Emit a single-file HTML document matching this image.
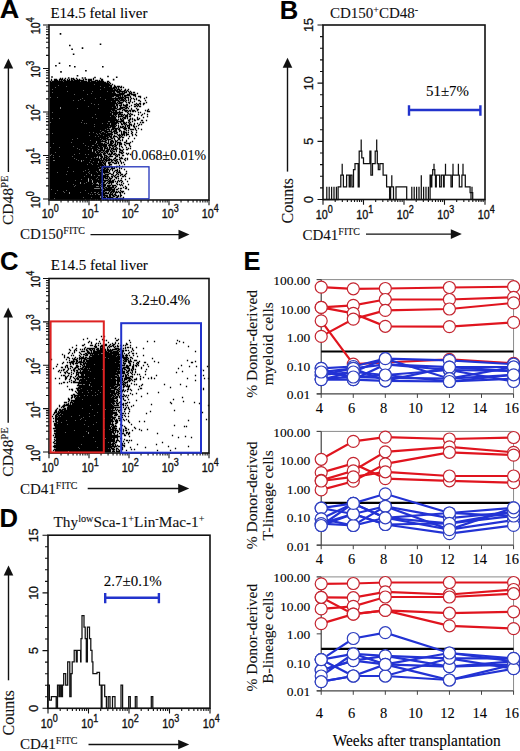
<!DOCTYPE html>
<html><head><meta charset="utf-8"><style>
html,body{margin:0;padding:0;background:#fff;width:520px;height:751px;overflow:hidden;font-family:"Liberation Serif",serif;}
svg{display:block;}
text:not([stroke]){stroke:#111;stroke-width:0.1px;}
</style></head><body>
<svg width="520" height="751" viewBox="0 0 520 751"><text x="-0.3" y="17.9" font-size="25.5" font-family="Liberation Sans" font-weight="bold" textLength="19.5" lengthAdjust="spacingAndGlyphs" fill="#000">A</text>
<text x="279.8" y="18.6" font-size="25.5" font-family="Liberation Sans" font-weight="bold" textLength="18.5" lengthAdjust="spacingAndGlyphs" fill="#000">B</text>
<text x="0.0" y="269.7" font-size="25.5" font-family="Liberation Sans" font-weight="bold" textLength="18.5" lengthAdjust="spacingAndGlyphs" fill="#000">C</text>
<text x="-0.5" y="526.6" font-size="25.5" font-family="Liberation Sans" font-weight="bold" textLength="18.5" lengthAdjust="spacingAndGlyphs" fill="#000">D</text>
<text x="243.5" y="270.1" font-size="25.5" font-family="Liberation Sans" font-weight="bold" textLength="17" lengthAdjust="spacingAndGlyphs" fill="#000">E</text>
<text x="50.4" y="18.0" font-size="15" font-family="Liberation Serif">E14.5 fetal liver</text>
<path d="M59.85 78.5h1.3M61.85 78.5h1.3M64.85 78.5h1.3M70.85 78.5h1.3M72.85 78.5h1.3M75.85 78.5h1.3M92.85 78.5h1.3M99.85 78.5h1.3M50.85 79.5h1.3M53.85 79.5h3.3M58.85 79.5h4.3M63.85 79.5h1.3M66.85 79.5h1.3M68.85 79.5h1.3M70.85 79.5h1.3M72.85 79.5h2.3M76.85 79.5h1.3M78.85 79.5h1.3M82.85 79.5h1.3M84.85 79.5h2.3M87.85 79.5h4.3M92.85 79.5h1.3M100.85 79.5h2.3M50.85 80.5h1.3M53.85 80.5h4.3M58.85 80.5h1.3M60.85 80.5h1.3M62.85 80.5h3.3M66.85 80.5h3.3M70.85 80.5h2.3M73.85 80.5h10.3M87.85 80.5h4.3M94.85 80.5h3.3M98.85 80.5h1.3M100.85 80.5h2.3M49.85 81.5h1.3M51.85 81.5h11.3M63.85 81.5h16.3M80.85 81.5h6.3M87.85 81.5h2.3M90.85 81.5h5.3M96.85 81.5h7.3M106.85 81.5h2.3M49.85 82.5h56.3M106.85 82.5h1.3M108.85 82.5h1.3M49.85 83.5h59.3M109.85 83.5h1.3M49.85 84.5h44.3M94.85 84.5h15.3M111.85 84.5h1.3M49.85 85.5h8.3M58.85 85.5h53.3M113.85 85.5h1.3M49.85 86.5h16.3M66.85 86.5h33.3M100.85 86.5h8.3M109.85 86.5h2.3M113.85 86.5h2.3M116.85 86.5h3.3M120.85 86.5h1.3M49.85 87.5h5.3M55.85 87.5h48.3M104.85 87.5h7.3M112.85 87.5h4.3M117.85 87.5h1.3M119.85 87.5h2.3M122.85 87.5h1.3M49.85 88.5h65.3M115.85 88.5h1.3M117.85 88.5h1.3M49.85 89.5h2.3M52.85 89.5h47.3M100.85 89.5h12.3M113.85 89.5h2.3M116.85 89.5h3.3M120.85 89.5h1.3M124.85 89.5h1.3M127.85 89.5h1.3M49.85 90.5h33.3M83.85 90.5h34.3M118.85 90.5h2.3M123.85 90.5h2.3M126.85 90.5h1.3M49.85 91.5h17.3M67.85 91.5h24.3M92.85 91.5h14.3M107.85 91.5h7.3M115.85 91.5h9.3M125.85 91.5h1.3M127.85 91.5h1.3M129.85 91.5h1.3M49.85 92.5h2.3M52.85 92.5h59.3M112.85 92.5h2.3M116.85 92.5h3.3M121.85 92.5h1.3M123.85 92.5h3.3M128.85 92.5h1.3M130.85 92.5h1.3M132.85 92.5h2.3M49.85 93.5h41.3M91.85 93.5h24.3M118.85 93.5h6.3M128.85 93.5h3.3M136.85 93.5h1.3M49.85 94.5h24.3M74.85 94.5h12.3M87.85 94.5h36.3M126.85 94.5h3.3M130.85 94.5h5.3M49.85 95.5h71.3M121.85 95.5h1.3M123.85 95.5h6.3M132.85 95.5h3.3M49.85 96.5h64.3M115.85 96.5h3.3M119.85 96.5h1.3M121.85 96.5h1.3M123.85 96.5h2.3M129.85 96.5h1.3M134.85 96.5h1.3M137.85 96.5h3.3M50.85 97.5h6.3M57.85 97.5h42.3M100.85 97.5h11.3M114.85 97.5h1.3M117.85 97.5h6.3M124.85 97.5h4.3M129.85 97.5h1.3M139.85 97.5h1.3M145.85 97.5h1.3M49.85 98.5h32.3M82.85 98.5h12.3M95.85 98.5h27.3M123.85 98.5h2.3M127.85 98.5h1.3M130.85 98.5h1.3M132.85 98.5h1.3M135.85 98.5h1.3M143.85 98.5h1.3M49.85 99.5h30.3M80.85 99.5h24.3M105.85 99.5h8.3M114.85 99.5h3.3M118.85 99.5h1.3M120.85 99.5h3.3M124.85 99.5h1.3M127.85 99.5h1.3M129.85 99.5h1.3M133.85 99.5h1.3M135.85 99.5h1.3M49.85 100.5h23.3M73.85 100.5h4.3M78.85 100.5h5.3M84.85 100.5h34.3M119.85 100.5h5.3M125.85 100.5h1.3M127.85 100.5h1.3M129.85 100.5h1.3M137.85 100.5h2.3M144.85 100.5h1.3M49.85 101.5h61.3M111.85 101.5h4.3M117.85 101.5h2.3M122.85 101.5h1.3M124.85 101.5h1.3M129.85 101.5h1.3M133.85 101.5h1.3M139.85 101.5h1.3M49.85 102.5h66.3M116.85 102.5h1.3M118.85 102.5h4.3M125.85 102.5h1.3M127.85 102.5h2.3M131.85 102.5h1.3M145.85 102.5h1.3M49.85 103.5h41.3M91.85 103.5h25.3M117.85 103.5h4.3M128.85 103.5h1.3M135.85 103.5h1.3M138.85 103.5h2.3M142.85 103.5h2.3M49.85 104.5h44.3M94.85 104.5h3.3M98.85 104.5h16.3M115.85 104.5h2.3M120.85 104.5h1.3M122.85 104.5h1.3M125.85 104.5h2.3M133.85 104.5h2.3M136.85 104.5h2.3M139.85 104.5h1.3M142.85 104.5h1.3M49.85 105.5h65.3M115.85 105.5h2.3M118.85 105.5h3.3M122.85 105.5h5.3M130.85 105.5h1.3M135.85 105.5h1.3M137.85 105.5h1.3M49.85 106.5h38.3M88.85 106.5h27.3M116.85 106.5h1.3M119.85 106.5h1.3M124.85 106.5h2.3M128.85 106.5h1.3M133.85 106.5h2.3M136.85 106.5h1.3M138.85 106.5h2.3M49.85 107.5h10.3M60.85 107.5h51.3M112.85 107.5h3.3M116.85 107.5h1.3M119.85 107.5h5.3M125.85 107.5h2.3M49.85 108.5h10.3M60.85 108.5h16.3M77.85 108.5h20.3M98.85 108.5h18.3M118.85 108.5h4.3M124.85 108.5h2.3M127.85 108.5h1.3M130.85 108.5h1.3M135.85 108.5h1.3M49.85 109.5h65.3M116.85 109.5h4.3M122.85 109.5h2.3M130.85 109.5h1.3M136.85 109.5h2.3M147.85 109.5h1.3M49.85 110.5h61.3M111.85 110.5h5.3M121.85 110.5h1.3M123.85 110.5h4.3M128.85 110.5h2.3M131.85 110.5h3.3M136.85 110.5h1.3M144.85 110.5h1.3M146.85 110.5h1.3M49.85 111.5h62.3M112.85 111.5h1.3M114.85 111.5h2.3M118.85 111.5h1.3M124.85 111.5h2.3M127.85 111.5h1.3M129.85 111.5h1.3M131.85 111.5h2.3M134.85 111.5h1.3M146.85 111.5h3.3M49.85 112.5h2.3M52.85 112.5h57.3M110.85 112.5h12.3M126.85 112.5h1.3M137.85 112.5h1.3M139.85 112.5h1.3M49.85 113.5h62.3M112.85 113.5h5.3M118.85 113.5h2.3M127.85 113.5h1.3M129.85 113.5h1.3M143.85 113.5h1.3M49.85 114.5h45.3M95.85 114.5h16.3M112.85 114.5h4.3M117.85 114.5h5.3M123.85 114.5h1.3M126.85 114.5h1.3M128.85 114.5h1.3M130.85 114.5h2.3M137.85 114.5h1.3M141.85 114.5h1.3M146.85 114.5h1.3M49.85 115.5h64.3M114.85 115.5h1.3M117.85 115.5h1.3M120.85 115.5h1.3M122.85 115.5h1.3M124.85 115.5h3.3M129.85 115.5h1.3M133.85 115.5h1.3M140.85 115.5h1.3M49.85 116.5h60.3M110.85 116.5h4.3M115.85 116.5h1.3M117.85 116.5h5.3M124.85 116.5h3.3M128.85 116.5h2.3M146.85 116.5h1.3M49.85 117.5h42.3M92.85 117.5h23.3M117.85 117.5h1.3M122.85 117.5h3.3M126.85 117.5h1.3M136.85 117.5h1.3M142.85 117.5h1.3M49.85 118.5h2.3M52.85 118.5h6.3M59.85 118.5h36.3M96.85 118.5h19.3M119.85 118.5h1.3M121.85 118.5h1.3M123.85 118.5h2.3M126.85 118.5h1.3M129.85 118.5h1.3M131.85 118.5h1.3M136.85 118.5h1.3M138.85 118.5h1.3M49.85 119.5h67.3M117.85 119.5h1.3M119.85 119.5h2.3M122.85 119.5h1.3M128.85 119.5h2.3M131.85 119.5h1.3M133.85 119.5h1.3M136.85 119.5h2.3M49.85 120.5h32.3M82.85 120.5h35.3M120.85 120.5h3.3M127.85 120.5h2.3M133.85 120.5h2.3M140.85 120.5h2.3M145.85 120.5h1.3M49.85 121.5h58.3M109.85 121.5h5.3M115.85 121.5h8.3M128.85 121.5h1.3M131.85 121.5h1.3M50.85 122.5h30.3M81.85 122.5h36.3M119.85 122.5h1.3M122.85 122.5h2.3M125.85 122.5h1.3M127.85 122.5h1.3M129.85 122.5h1.3M139.85 122.5h1.3M141.85 122.5h2.3M49.85 123.5h34.3M84.85 123.5h1.3M86.85 123.5h15.3M102.85 123.5h4.3M107.85 123.5h2.3M110.85 123.5h6.3M117.85 123.5h1.3M120.85 123.5h1.3M122.85 123.5h3.3M128.85 123.5h1.3M133.85 123.5h1.3M136.85 123.5h1.3M49.85 124.5h44.3M94.85 124.5h15.3M110.85 124.5h5.3M120.85 124.5h2.3M123.85 124.5h1.3M125.85 124.5h1.3M128.85 124.5h3.3M133.85 124.5h1.3M138.85 124.5h1.3M140.85 124.5h1.3M49.85 125.5h65.3M115.85 125.5h1.3M117.85 125.5h1.3M124.85 125.5h1.3M126.85 125.5h3.3M130.85 125.5h1.3M132.85 125.5h1.3M137.85 125.5h1.3M49.85 126.5h44.3M94.85 126.5h14.3M109.85 126.5h6.3M117.85 126.5h1.3M119.85 126.5h1.3M121.85 126.5h2.3M124.85 126.5h1.3M126.85 126.5h1.3M128.85 126.5h1.3M132.85 126.5h2.3M135.85 126.5h1.3M49.85 127.5h61.3M111.85 127.5h3.3M117.85 127.5h1.3M119.85 127.5h3.3M123.85 127.5h2.3M127.85 127.5h2.3M133.85 127.5h1.3M49.85 128.5h57.3M107.85 128.5h1.3M111.85 128.5h6.3M118.85 128.5h1.3M122.85 128.5h4.3M127.85 128.5h2.3M134.85 128.5h1.3M137.85 128.5h1.3M49.85 129.5h55.3M105.85 129.5h4.3M110.85 129.5h3.3M114.85 129.5h2.3M117.85 129.5h2.3M123.85 129.5h2.3M129.85 129.5h4.3M134.85 129.5h1.3M140.85 129.5h1.3M49.85 130.5h50.3M100.85 130.5h6.3M108.85 130.5h1.3M110.85 130.5h1.3M113.85 130.5h3.3M118.85 130.5h2.3M125.85 130.5h1.3M127.85 130.5h1.3M135.85 130.5h1.3M49.85 131.5h52.3M103.85 131.5h8.3M112.85 131.5h4.3M118.85 131.5h1.3M120.85 131.5h1.3M122.85 131.5h2.3M130.85 131.5h1.3M49.85 132.5h39.3M89.85 132.5h3.3M93.85 132.5h7.3M101.85 132.5h2.3M104.85 132.5h3.3M110.85 132.5h2.3M113.85 132.5h1.3M115.85 132.5h2.3M120.85 132.5h1.3M122.85 132.5h4.3M127.85 132.5h1.3M131.85 132.5h1.3M135.85 132.5h1.3M49.85 133.5h2.3M52.85 133.5h43.3M96.85 133.5h2.3M99.85 133.5h6.3M106.85 133.5h5.3M113.85 133.5h3.3M120.85 133.5h1.3M122.85 133.5h2.3M125.85 133.5h1.3M130.85 133.5h1.3M49.85 134.5h47.3M97.85 134.5h2.3M100.85 134.5h12.3M116.85 134.5h1.3M118.85 134.5h1.3M120.85 134.5h4.3M125.85 134.5h3.3M131.85 134.5h1.3M134.85 134.5h1.3M49.85 135.5h39.3M89.85 135.5h13.3M103.85 135.5h6.3M110.85 135.5h1.3M113.85 135.5h1.3M117.85 135.5h3.3M121.85 135.5h1.3M123.85 135.5h1.3M125.85 135.5h1.3M131.85 135.5h1.3M135.85 135.5h1.3M49.85 136.5h45.3M95.85 136.5h2.3M98.85 136.5h9.3M108.85 136.5h3.3M112.85 136.5h4.3M118.85 136.5h1.3M120.85 136.5h1.3M128.85 136.5h1.3M49.85 137.5h56.3M106.85 137.5h2.3M109.85 137.5h2.3M112.85 137.5h1.3M116.85 137.5h1.3M118.85 137.5h2.3M121.85 137.5h2.3M49.85 138.5h27.3M77.85 138.5h22.3M100.85 138.5h7.3M110.85 138.5h2.3M113.85 138.5h1.3M117.85 138.5h2.3M127.85 138.5h1.3M133.85 138.5h1.3M49.85 139.5h22.3M72.85 139.5h29.3M102.85 139.5h3.3M106.85 139.5h4.3M113.85 139.5h1.3M117.85 139.5h2.3M121.85 139.5h1.3M49.85 140.5h40.3M90.85 140.5h10.3M101.85 140.5h1.3M104.85 140.5h2.3M107.85 140.5h1.3M110.85 140.5h2.3M114.85 140.5h1.3M116.85 140.5h1.3M119.85 140.5h1.3M121.85 140.5h1.3M125.85 140.5h1.3M49.85 141.5h46.3M96.85 141.5h9.3M107.85 141.5h1.3M109.85 141.5h4.3M114.85 141.5h2.3M125.85 141.5h1.3M131.85 141.5h1.3M49.85 142.5h21.3M71.85 142.5h24.3M96.85 142.5h4.3M104.85 142.5h2.3M107.85 142.5h1.3M109.85 142.5h2.3M112.85 142.5h1.3M114.85 142.5h1.3M116.85 142.5h4.3M123.85 142.5h2.3M129.85 142.5h1.3M49.85 143.5h3.3M53.85 143.5h29.3M83.85 143.5h11.3M95.85 143.5h7.3M103.85 143.5h1.3M106.85 143.5h2.3M109.85 143.5h3.3M114.85 143.5h1.3M116.85 143.5h1.3M118.85 143.5h3.3M125.85 143.5h4.3M49.85 144.5h47.3M97.85 144.5h9.3M108.85 144.5h3.3M113.85 144.5h2.3M116.85 144.5h1.3M118.85 144.5h3.3M123.85 144.5h1.3M128.85 144.5h1.3M49.85 145.5h35.3M85.85 145.5h6.3M93.85 145.5h13.3M107.85 145.5h6.3M114.85 145.5h2.3M118.85 145.5h1.3M124.85 145.5h1.3M128.85 145.5h1.3M49.85 146.5h23.3M73.85 146.5h14.3M88.85 146.5h9.3M98.85 146.5h3.3M102.85 146.5h4.3M108.85 146.5h1.3M111.85 146.5h1.3M113.85 146.5h2.3M118.85 146.5h1.3M120.85 146.5h1.3M129.85 146.5h1.3M50.85 147.5h8.3M59.85 147.5h31.3M91.85 147.5h7.3M99.85 147.5h3.3M103.85 147.5h2.3M106.85 147.5h1.3M108.85 147.5h2.3M112.85 147.5h1.3M115.85 147.5h1.3M121.85 147.5h1.3M125.85 147.5h1.3M49.85 148.5h27.3M77.85 148.5h19.3M97.85 148.5h5.3M103.85 148.5h4.3M108.85 148.5h1.3M110.85 148.5h3.3M114.85 148.5h1.3M116.85 148.5h1.3M118.85 148.5h1.3M127.85 148.5h1.3M129.85 148.5h1.3M49.85 149.5h29.3M79.85 149.5h8.3M88.85 149.5h3.3M92.85 149.5h5.3M99.85 149.5h3.3M103.85 149.5h1.3M106.85 149.5h3.3M110.85 149.5h1.3M112.85 149.5h4.3M118.85 149.5h2.3M122.85 149.5h1.3M125.85 149.5h2.3M49.85 150.5h42.3M92.85 150.5h4.3M97.85 150.5h7.3M105.85 150.5h3.3M109.85 150.5h1.3M111.85 150.5h1.3M115.85 150.5h1.3M119.85 150.5h3.3M49.85 151.5h42.3M92.85 151.5h2.3M95.85 151.5h2.3M98.85 151.5h2.3M102.85 151.5h1.3M104.85 151.5h4.3M109.85 151.5h2.3M112.85 151.5h2.3M115.85 151.5h1.3M118.85 151.5h1.3M121.85 151.5h1.3M49.85 152.5h5.3M55.85 152.5h39.3M95.85 152.5h4.3M100.85 152.5h2.3M103.85 152.5h1.3M105.85 152.5h2.3M110.85 152.5h2.3M118.85 152.5h3.3M122.85 152.5h1.3M49.85 153.5h29.3M79.85 153.5h16.3M96.85 153.5h2.3M99.85 153.5h1.3M102.85 153.5h3.3M106.85 153.5h1.3M108.85 153.5h1.3M110.85 153.5h2.3M113.85 153.5h2.3M120.85 153.5h2.3M125.85 153.5h1.3M127.85 153.5h1.3M49.85 154.5h1.3M51.85 154.5h22.3M74.85 154.5h10.3M85.85 154.5h2.3M88.85 154.5h13.3M102.85 154.5h2.3M107.85 154.5h4.3M112.85 154.5h2.3M115.85 154.5h1.3M117.85 154.5h2.3M126.85 154.5h1.3M129.85 154.5h1.3M50.85 155.5h2.3M53.85 155.5h48.3M103.85 155.5h3.3M109.85 155.5h1.3M114.85 155.5h1.3M116.85 155.5h1.3M118.85 155.5h1.3M121.85 155.5h2.3M49.85 156.5h9.3M59.85 156.5h12.3M72.85 156.5h24.3M97.85 156.5h1.3M99.85 156.5h3.3M103.85 156.5h1.3M105.85 156.5h2.3M108.85 156.5h4.3M115.85 156.5h2.3M49.85 157.5h3.3M53.85 157.5h32.3M86.85 157.5h7.3M94.85 157.5h1.3M97.85 157.5h1.3M100.85 157.5h2.3M103.85 157.5h3.3M107.85 157.5h1.3M114.85 157.5h1.3M118.85 157.5h1.3M120.85 157.5h1.3M49.85 158.5h24.3M74.85 158.5h16.3M91.85 158.5h7.3M99.85 158.5h2.3M102.85 158.5h2.3M105.85 158.5h2.3M108.85 158.5h1.3M113.85 158.5h2.3M119.85 158.5h3.3M124.85 158.5h1.3M126.85 158.5h1.3M49.85 159.5h26.3M76.85 159.5h23.3M100.85 159.5h1.3M102.85 159.5h4.3M107.85 159.5h4.3M112.85 159.5h1.3M115.85 159.5h2.3M118.85 159.5h1.3M123.85 159.5h1.3M126.85 159.5h1.3M49.85 160.5h3.3M54.85 160.5h23.3M78.85 160.5h2.3M81.85 160.5h1.3M83.85 160.5h6.3M90.85 160.5h13.3M104.85 160.5h5.3M110.85 160.5h2.3M113.85 160.5h3.3M119.85 160.5h1.3M124.85 160.5h1.3M49.85 161.5h31.3M81.85 161.5h11.3M93.85 161.5h4.3M98.85 161.5h2.3M101.85 161.5h1.3M103.85 161.5h1.3M105.85 161.5h1.3M110.85 161.5h1.3M114.85 161.5h1.3M116.85 161.5h1.3M119.85 161.5h1.3M49.85 162.5h39.3M89.85 162.5h8.3M98.85 162.5h5.3M104.85 162.5h1.3M107.85 162.5h3.3M111.85 162.5h2.3M115.85 162.5h1.3M117.85 162.5h1.3M120.85 162.5h1.3M122.85 162.5h1.3M49.85 163.5h41.3M91.85 163.5h10.3M102.85 163.5h3.3M107.85 163.5h2.3M113.85 163.5h3.3M117.85 163.5h1.3M120.85 163.5h1.3M49.85 164.5h37.3M87.85 164.5h4.3M92.85 164.5h4.3M97.85 164.5h5.3M103.85 164.5h2.3M108.85 164.5h3.3M123.85 164.5h1.3M49.85 165.5h54.3M104.85 165.5h1.3M108.85 165.5h1.3M118.85 165.5h1.3M49.85 166.5h50.3M100.85 166.5h8.3M109.85 166.5h2.3M115.85 166.5h2.3M121.85 166.5h1.3M49.85 167.5h18.3M68.85 167.5h29.3M98.85 167.5h3.3M102.85 167.5h7.3M110.85 167.5h2.3M113.85 167.5h1.3M115.85 167.5h1.3M118.85 167.5h1.3M49.85 168.5h51.3M101.85 168.5h1.3M103.85 168.5h2.3M106.85 168.5h1.3M110.85 168.5h4.3M118.85 168.5h1.3M120.85 168.5h1.3M49.85 169.5h38.3M88.85 169.5h10.3M100.85 169.5h4.3M105.85 169.5h3.3M109.85 169.5h1.3M111.85 169.5h1.3M116.85 169.5h1.3M123.85 169.5h1.3M49.85 170.5h35.3M85.85 170.5h13.3M99.85 170.5h8.3M108.85 170.5h1.3M111.85 170.5h1.3M114.85 170.5h3.3M118.85 170.5h1.3M49.85 171.5h17.3M67.85 171.5h5.3M73.85 171.5h9.3M83.85 171.5h5.3M89.85 171.5h6.3M96.85 171.5h3.3M100.85 171.5h1.3M102.85 171.5h5.3M108.85 171.5h1.3M113.85 171.5h1.3M116.85 171.5h1.3M118.85 171.5h1.3M125.85 171.5h1.3M49.85 172.5h7.3M57.85 172.5h30.3M88.85 172.5h8.3M97.85 172.5h11.3M112.85 172.5h1.3M115.85 172.5h1.3M117.85 172.5h3.3M49.85 173.5h39.3M89.85 173.5h13.3M103.85 173.5h1.3M108.85 173.5h2.3M112.85 173.5h1.3M116.85 173.5h1.3M119.85 173.5h1.3M125.85 173.5h1.3M49.85 174.5h16.3M66.85 174.5h19.3M86.85 174.5h4.3M91.85 174.5h11.3M104.85 174.5h4.3M110.85 174.5h2.3M115.85 174.5h1.3M117.85 174.5h1.3M120.85 174.5h2.3M124.85 174.5h1.3M49.85 175.5h41.3M91.85 175.5h2.3M94.85 175.5h3.3M99.85 175.5h2.3M102.85 175.5h3.3M106.85 175.5h1.3M112.85 175.5h1.3M114.85 175.5h1.3M119.85 175.5h1.3M123.85 175.5h1.3M49.85 176.5h34.3M84.85 176.5h24.3M110.85 176.5h2.3M113.85 176.5h1.3M116.85 176.5h2.3M121.85 176.5h2.3M124.85 176.5h1.3M49.85 177.5h47.3M97.85 177.5h8.3M106.85 177.5h1.3M108.85 177.5h1.3M111.85 177.5h1.3M114.85 177.5h2.3M49.85 178.5h38.3M88.85 178.5h7.3M96.85 178.5h7.3M104.85 178.5h3.3M108.85 178.5h3.3M115.85 178.5h1.3M117.85 178.5h1.3M120.85 178.5h1.3M128.85 178.5h1.3M49.85 179.5h31.3M81.85 179.5h6.3M88.85 179.5h2.3M91.85 179.5h6.3M98.85 179.5h5.3M107.85 179.5h1.3M109.85 179.5h1.3M113.85 179.5h1.3M124.85 179.5h1.3M49.85 180.5h25.3M75.85 180.5h12.3M88.85 180.5h3.3M92.85 180.5h15.3M108.85 180.5h2.3M111.85 180.5h2.3M117.85 180.5h1.3M119.85 180.5h2.3M49.85 181.5h17.3M67.85 181.5h20.3M88.85 181.5h3.3M92.85 181.5h10.3M103.85 181.5h2.3M107.85 181.5h6.3M114.85 181.5h1.3M116.85 181.5h1.3M118.85 181.5h1.3M121.85 181.5h1.3M126.85 181.5h1.3M49.85 182.5h30.3M80.85 182.5h5.3M86.85 182.5h5.3M92.85 182.5h4.3M97.85 182.5h7.3M106.85 182.5h1.3M108.85 182.5h5.3M116.85 182.5h1.3M120.85 182.5h1.3M49.85 183.5h30.3M80.85 183.5h3.3M84.85 183.5h8.3M93.85 183.5h2.3M98.85 183.5h2.3M102.85 183.5h1.3M105.85 183.5h1.3M107.85 183.5h2.3M110.85 183.5h1.3M115.85 183.5h1.3M122.85 183.5h1.3M49.85 184.5h23.3M73.85 184.5h18.3M92.85 184.5h5.3M98.85 184.5h1.3M100.85 184.5h5.3M110.85 184.5h1.3M116.85 184.5h1.3M118.85 184.5h1.3M120.85 184.5h1.3M127.85 184.5h1.3M49.85 185.5h25.3M75.85 185.5h25.3M101.85 185.5h4.3M106.85 185.5h4.3M111.85 185.5h4.3M119.85 185.5h1.3M121.85 185.5h1.3M49.85 186.5h24.3M74.85 186.5h21.3M98.85 186.5h1.3M100.85 186.5h4.3M106.85 186.5h3.3M111.85 186.5h2.3M115.85 186.5h1.3M124.85 186.5h1.3M49.85 187.5h51.3M102.85 187.5h1.3M104.85 187.5h2.3M107.85 187.5h6.3M114.85 187.5h1.3M122.85 187.5h1.3M125.85 187.5h1.3M49.85 188.5h44.3M99.85 188.5h1.3M102.85 188.5h2.3M105.85 188.5h6.3M113.85 188.5h1.3M117.85 188.5h1.3M119.85 188.5h2.3M124.85 188.5h2.3M49.85 189.5h1.3M51.85 189.5h50.3M103.85 189.5h11.3M115.85 189.5h2.3M127.85 189.5h1.3M49.85 190.5h7.3M57.85 190.5h8.3M66.85 190.5h18.3M85.85 190.5h16.3M102.85 190.5h8.3M111.85 190.5h3.3M119.85 190.5h1.3M49.85 191.5h13.3M63.85 191.5h37.3M102.85 191.5h2.3M108.85 191.5h1.3M110.85 191.5h4.3M115.85 191.5h1.3M117.85 191.5h1.3M120.85 191.5h3.3M49.85 192.5h14.3M64.85 192.5h4.3M69.85 192.5h10.3M80.85 192.5h10.3M91.85 192.5h2.3M95.85 192.5h2.3M98.85 192.5h5.3M104.85 192.5h2.3M107.85 192.5h1.3M109.85 192.5h2.3M112.85 192.5h1.3M114.85 192.5h3.3M118.85 192.5h2.3M121.85 192.5h1.3M49.85 193.5h5.3M55.85 193.5h13.3M69.85 193.5h18.3M88.85 193.5h8.3M97.85 193.5h11.3M109.85 193.5h1.3M111.85 193.5h1.3M114.85 193.5h1.3M119.85 193.5h1.3M123.85 193.5h1.3M49.85 194.5h40.3M90.85 194.5h1.3M92.85 194.5h2.3M95.85 194.5h2.3M99.85 194.5h5.3M108.85 194.5h4.3M113.85 194.5h2.3M119.85 194.5h1.3M49.85 195.5h52.3M102.85 195.5h5.3M108.85 195.5h2.3M111.85 195.5h2.3M114.85 195.5h2.3M117.85 195.5h1.3M119.85 195.5h2.3M49.85 196.5h50.3M100.85 196.5h2.3M103.85 196.5h1.3M105.85 196.5h2.3M108.85 196.5h2.3M112.85 196.5h2.3M116.85 196.5h2.3M119.85 196.5h1.3M49.85 197.5h33.3M83.85 197.5h7.3M91.85 197.5h8.3M100.85 197.5h1.3M102.85 197.5h3.3M106.85 197.5h6.3M115.85 197.5h2.3M122.85 197.5h1.3M49.85 198.5h4.3M54.85 198.5h51.3M106.85 198.5h1.3M108.85 198.5h2.3M111.85 198.5h2.3M114.85 198.5h1.3M116.85 198.5h1.3M118.85 198.5h5.3M49.85 199.5h35.3M85.85 199.5h4.3M90.85 199.5h4.3M95.85 199.5h1.3M97.85 199.5h3.3M102.85 199.5h1.3M104.85 199.5h3.3M109.85 199.5h1.3M112.85 199.5h1.3M114.85 199.5h2.3M117.85 199.5h1.3M119.85 199.5h1.3M121.85 199.5h1.3" stroke="#000" stroke-width="1.35"/>
<path d="M59.7 33.9h1.6M69.0 45.5h1.6M71.3 49.2h1.6M72.8 54.2h1.6M81.7 48.1h1.6M99.7 44.2h1.6M55.1 65.8h1.6M58.7 63.2h1.6M69.0 65.8h1.6M74.0 66.8h1.6M60.2 71.9h1.6M85.1 70.8h1.6M102.0 66.8h1.6M76.7 75.8h1.6M115.9 77.3h1.6M112.8 79.6h1.6M67.9 78.0h1.6M71.2 78.8h1.6M81.7 78.0h1.6M84.4 78.0h1.6M51.2 77.0h1.6M94.2 77.5h1.6M107.2 76.5h1.6" stroke="#000" stroke-width="1.6"/>
<rect x="49" y="25" width="160" height="175" fill="none" stroke="#111" stroke-width="1.6"/>
<path d="M49.00 200.00v5.2M61.04 200.00v2.6M68.08 200.00v2.6M73.08 200.00v2.6M76.96 200.00v2.6M80.13 200.00v2.6M82.80 200.00v2.6M85.12 200.00v2.6M87.17 200.00v2.6M89.00 200.00v5.2M101.04 200.00v2.6M108.08 200.00v2.6M113.08 200.00v2.6M116.96 200.00v2.6M120.13 200.00v2.6M122.80 200.00v2.6M125.12 200.00v2.6M127.17 200.00v2.6M129.00 200.00v5.2M141.04 200.00v2.6M148.08 200.00v2.6M153.08 200.00v2.6M156.96 200.00v2.6M160.13 200.00v2.6M162.80 200.00v2.6M165.12 200.00v2.6M167.17 200.00v2.6M169.00 200.00v5.2M181.04 200.00v2.6M188.08 200.00v2.6M193.08 200.00v2.6M196.96 200.00v2.6M200.13 200.00v2.6M202.80 200.00v2.6M205.12 200.00v2.6M207.17 200.00v2.6M209.00 200.00v5.2" stroke="#111" stroke-width="1.1" fill="none" />
<path d="M49.00 199.00h-6M49.00 185.91h-3M49.00 178.25h-3M49.00 172.81h-3M49.00 168.59h-3M49.00 165.15h-3M49.00 162.24h-3M49.00 159.72h-3M49.00 157.49h-3M49.00 155.50h-6M49.00 142.41h-3M49.00 134.75h-3M49.00 129.31h-3M49.00 125.09h-3M49.00 121.65h-3M49.00 118.74h-3M49.00 116.22h-3M49.00 113.99h-3M49.00 112.00h-6M49.00 98.91h-3M49.00 91.25h-3M49.00 85.81h-3M49.00 81.59h-3M49.00 78.15h-3M49.00 75.24h-3M49.00 72.72h-3M49.00 70.49h-3M49.00 68.50h-6M49.00 55.41h-3M49.00 47.75h-3M49.00 42.31h-3M49.00 38.09h-3M49.00 34.65h-3M49.00 31.74h-3M49.00 29.22h-3M49.00 26.99h-3M49.00 25.00h-6" stroke="#111" stroke-width="1.1" fill="none" />
<text x="50.2" y="217.6" font-size="12" font-family="Liberation Sans" text-anchor="middle" fill="#111" stroke="#111" stroke-width="0.35" textLength="17" lengthAdjust="spacingAndGlyphs">10<tspan dy="-5.6" font-size="10">0</tspan></text>
<text x="90.2" y="217.6" font-size="12" font-family="Liberation Sans" text-anchor="middle" fill="#111" stroke="#111" stroke-width="0.35" textLength="17" lengthAdjust="spacingAndGlyphs">10<tspan dy="-5.6" font-size="10">1</tspan></text>
<text x="130.2" y="217.6" font-size="12" font-family="Liberation Sans" text-anchor="middle" fill="#111" stroke="#111" stroke-width="0.35" textLength="17" lengthAdjust="spacingAndGlyphs">10<tspan dy="-5.6" font-size="10">2</tspan></text>
<text x="170.2" y="217.6" font-size="12" font-family="Liberation Sans" text-anchor="middle" fill="#111" stroke="#111" stroke-width="0.35" textLength="17" lengthAdjust="spacingAndGlyphs">10<tspan dy="-5.6" font-size="10">3</tspan></text>
<text x="210.2" y="217.6" font-size="12" font-family="Liberation Sans" text-anchor="middle" fill="#111" stroke="#111" stroke-width="0.35" textLength="17" lengthAdjust="spacingAndGlyphs">10<tspan dy="-5.6" font-size="10">4</tspan></text>
<text x="39.8" y="199.8" font-size="12" font-family="Liberation Sans" text-anchor="middle" fill="#111" stroke="#111" stroke-width="0.35" textLength="17" lengthAdjust="spacingAndGlyphs" transform="rotate(-90 39.8 199.8)">10<tspan dy="-5.6" font-size="10">0</tspan></text>
<text x="39.8" y="156.3" font-size="12" font-family="Liberation Sans" text-anchor="middle" fill="#111" stroke="#111" stroke-width="0.35" textLength="17" lengthAdjust="spacingAndGlyphs" transform="rotate(-90 39.8 156.3)">10<tspan dy="-5.6" font-size="10">1</tspan></text>
<text x="39.8" y="112.8" font-size="12" font-family="Liberation Sans" text-anchor="middle" fill="#111" stroke="#111" stroke-width="0.35" textLength="17" lengthAdjust="spacingAndGlyphs" transform="rotate(-90 39.8 112.8)">10<tspan dy="-5.6" font-size="10">2</tspan></text>
<text x="39.8" y="69.3" font-size="12" font-family="Liberation Sans" text-anchor="middle" fill="#111" stroke="#111" stroke-width="0.35" textLength="17" lengthAdjust="spacingAndGlyphs" transform="rotate(-90 39.8 69.3)">10<tspan dy="-5.6" font-size="10">3</tspan></text>
<text x="39.8" y="25.8" font-size="12" font-family="Liberation Sans" text-anchor="middle" fill="#111" stroke="#111" stroke-width="0.35" textLength="17" lengthAdjust="spacingAndGlyphs" transform="rotate(-90 39.8 25.8)">10<tspan dy="-5.6" font-size="10">4</tspan></text>
<rect x="102.2" y="166.8" width="46.8" height="32" fill="none" stroke="#2233bb" stroke-width="1.3"/>
<text x="131.0" y="160.2" font-size="14" font-family="Liberation Serif" textLength="75" lengthAdjust="spacingAndGlyphs">0.068±0.01%</text>
<line x1="8.40" y1="172.00" x2="8.40" y2="66.40" stroke="#111" stroke-width="1.4" />
<path d="M3.6 68.4L8.4 58.4L13.2 68.4Z" stroke="none" stroke-width="0" fill="#111" />
<text x="13" y="225" font-size="15.5" font-family="Liberation Serif" fill="#111" transform="rotate(-90 13 225)">CD48<tspan dy="-5" font-size="10.5">PE</tspan></text>
<text x="20" y="238.7" font-size="15" font-family="Liberation Serif" fill="#111">CD150<tspan dy="-5" font-size="10">FITC</tspan></text>
<line x1="90.50" y1="234.60" x2="181.50" y2="234.60" stroke="#111" stroke-width="1.4" />
<path d="M178.5 229.8L189.5 234.6L178.5 239.4Z" stroke="none" stroke-width="0" fill="#111" />
<text x="330" y="18.3" font-size="15" font-family="Liberation Serif" fill="#111">CD150<tspan dy="-5" font-size="10">+</tspan><tspan dy="5">CD48</tspan><tspan dy="-5" font-size="10">-</tspan></text>
<rect x="323" y="25" width="162" height="174.5" fill="none" stroke="#111" stroke-width="1.6"/>
<path d="M323.00 199.50v5.2M335.19 199.50v2.6M342.32 199.50v2.6M347.38 199.50v2.6M351.31 199.50v2.6M354.52 199.50v2.6M357.23 199.50v2.6M359.58 199.50v2.6M361.65 199.50v2.6M363.50 199.50v5.2M375.69 199.50v2.6M382.82 199.50v2.6M387.88 199.50v2.6M391.81 199.50v2.6M395.02 199.50v2.6M397.73 199.50v2.6M400.08 199.50v2.6M402.15 199.50v2.6M404.00 199.50v5.2M416.19 199.50v2.6M423.32 199.50v2.6M428.38 199.50v2.6M432.31 199.50v2.6M435.52 199.50v2.6M438.23 199.50v2.6M440.58 199.50v2.6M442.65 199.50v2.6M444.50 199.50v5.2M456.69 199.50v2.6M463.82 199.50v2.6M468.88 199.50v2.6M472.81 199.50v2.6M476.02 199.50v2.6M478.73 199.50v2.6M481.08 199.50v2.6M483.15 199.50v2.6M485.00 199.50v5.2" stroke="#111" stroke-width="1.1" fill="none" />
<path d="M323.00 199.50h-5.5M323.00 187.87h-3M323.00 176.23h-3M323.00 164.60h-3M323.00 152.97h-3M323.00 141.33h-5.5M323.00 129.70h-3M323.00 118.07h-3M323.00 106.43h-3M323.00 94.80h-3M323.00 83.17h-5.5M323.00 71.53h-3M323.00 59.90h-3M323.00 48.27h-3M323.00 36.63h-3M323.00 25.00h-5.5" stroke="#111" stroke-width="1.1" fill="none" />
<text x="324.2" y="218.5" font-size="12" font-family="Liberation Sans" text-anchor="middle" fill="#111" stroke="#111" stroke-width="0.35" textLength="17" lengthAdjust="spacingAndGlyphs">10<tspan dy="-5.6" font-size="10">0</tspan></text>
<text x="364.7" y="218.5" font-size="12" font-family="Liberation Sans" text-anchor="middle" fill="#111" stroke="#111" stroke-width="0.35" textLength="17" lengthAdjust="spacingAndGlyphs">10<tspan dy="-5.6" font-size="10">1</tspan></text>
<text x="405.2" y="218.5" font-size="12" font-family="Liberation Sans" text-anchor="middle" fill="#111" stroke="#111" stroke-width="0.35" textLength="17" lengthAdjust="spacingAndGlyphs">10<tspan dy="-5.6" font-size="10">2</tspan></text>
<text x="445.7" y="218.5" font-size="12" font-family="Liberation Sans" text-anchor="middle" fill="#111" stroke="#111" stroke-width="0.35" textLength="17" lengthAdjust="spacingAndGlyphs">10<tspan dy="-5.6" font-size="10">3</tspan></text>
<text x="486.2" y="218.5" font-size="12" font-family="Liberation Sans" text-anchor="middle" fill="#111" stroke="#111" stroke-width="0.35" textLength="17" lengthAdjust="spacingAndGlyphs">10<tspan dy="-5.6" font-size="10">4</tspan></text>
<text x="312.7" y="199.5" font-size="12.5" font-family="Liberation Sans" text-anchor="middle" fill="#111" stroke="#111" stroke-width="0.3" transform="rotate(-90 312.7 199.5)">0</text>
<text x="312.7" y="141.3" font-size="12.5" font-family="Liberation Sans" text-anchor="middle" fill="#111" stroke="#111" stroke-width="0.3" transform="rotate(-90 312.7 141.3)">5</text>
<text x="312.7" y="83.2" font-size="12.5" font-family="Liberation Sans" text-anchor="middle" fill="#111" stroke="#111" stroke-width="0.3" transform="rotate(-90 312.7 83.2)">10</text>
<text x="312.7" y="25.0" font-size="12.5" font-family="Liberation Sans" text-anchor="middle" fill="#111" stroke="#111" stroke-width="0.3" transform="rotate(-90 312.7 25.0)">15</text>
<path d="M409 110H480.4M409 105.3V115.7M480.4 105.3V115.7" stroke="#2233cc" stroke-width="2.4" fill="none" />
<text x="426.0" y="95.8" font-size="15" font-family="Liberation Serif" textLength="43" lengthAdjust="spacingAndGlyphs">51±7%</text>
<line x1="287.50" y1="171.60" x2="287.50" y2="65.70" stroke="#111" stroke-width="1.4" />
<path d="M282.7 67.7L287.5 57.7L292.3 67.7Z" stroke="none" stroke-width="0" fill="#111" />
<text x="293" y="223.5" font-size="16" font-family="Liberation Serif" fill="#111" transform="rotate(-90 293 223.5)">Counts</text>
<text x="302.5" y="239.8" font-size="15" font-family="Liberation Serif" fill="#111">CD41<tspan dy="-5" font-size="10">FITC</tspan></text>
<line x1="366.00" y1="234.10" x2="453.80" y2="234.10" stroke="#111" stroke-width="1.4" />
<path d="M450.8 229.3L461.8 234.1L450.8 238.9Z" stroke="none" stroke-width="0" fill="#111" />
<path d="M323.0 199.5H326.8V186.8V199.5H329.2V186.8V199.5H331.6V186.8V199.5H334.0V186.8V199.5H336.4V186.8V199.5H338.1V186.8H340.8V175.2H342.2V163.7V175.2H343.4V186.8H346.6V175.2H349.2V186.8H350.3V175.2H351.9V186.8H353.5V169.5H355.0V163.7H358.2V186.8H359.2V151.0H361.2V139.4V151.0H361.8V157.9H363.5V163.7H369.9V151.0H370.9V175.2H372.5V163.7H375.2V151.0H376.7V139.4V151.0H377.3V163.7H378.3V169.5H379.9V163.7H383.1V175.2H386.6V186.8H389.6V199.5H390.6V186.8H391.8V175.2V186.8H392.6V186.8H393.5V199.5H396.0V186.8H406.7V199.5H411.8V186.8V199.5H414.2V186.8V199.5H416.6V186.8V199.5H419.0V186.8V199.5H421.3V175.2V199.5H423.6V186.8V199.5H426.0V186.8V199.5H428.4V186.8V199.5H430.1V175.2H431.0V186.8H431.8V175.2H432.7V169.5H434.0V163.7V169.5H434.8V175.2H435.5V186.8H436.3V175.2H439.6V186.8H441.3V175.2H443.5V186.8H444.2V175.2H445.5V163.7V175.2H451.0V186.8H452.4V175.2H453.0V163.7V175.2H458.4V163.7V175.2H459.3V186.8H461.9V175.2H463.0V163.7V175.2H465.3V186.8H470.1V192.6H471.0V199.5V192.6H472.0V186.8V192.6H472.7V199.5H485.0" stroke="#111" stroke-width="1.25" fill="none" />
<text x="50.8" y="270.0" font-size="15" font-family="Liberation Serif">E14.5 fetal liver</text>
<path d="M100.85 336.5h1.3M103.85 336.5h1.3M86.85 338.5h1.3M114.85 338.5h1.3M82.85 339.5h1.3M95.85 339.5h1.3M101.85 339.5h1.3M117.85 339.5h1.3M102.85 340.5h2.3M105.85 340.5h1.3M115.85 340.5h2.3M128.85 340.5h1.3M176.85 340.5h1.3M88.85 341.5h1.3M98.85 341.5h1.3M146.85 341.5h1.3M153.85 341.5h1.3M178.85 341.5h1.3M87.85 342.5h1.3M90.85 342.5h1.3M107.85 342.5h1.3M114.85 342.5h1.3M129.85 342.5h1.3M182.85 342.5h1.3M90.85 343.5h1.3M95.85 343.5h1.3M97.85 343.5h1.3M99.85 343.5h1.3M111.85 343.5h1.3M114.85 343.5h1.3M117.85 343.5h1.3M125.85 343.5h1.3M175.85 343.5h1.3M83.85 344.5h1.3M94.85 344.5h1.3M102.85 344.5h1.3M104.85 344.5h2.3M109.85 344.5h1.3M112.85 344.5h2.3M125.85 344.5h2.3M75.85 345.5h1.3M81.85 345.5h2.3M89.85 345.5h3.3M94.85 345.5h1.3M97.85 345.5h1.3M100.85 345.5h2.3M103.85 345.5h3.3M108.85 345.5h1.3M111.85 345.5h2.3M116.85 345.5h1.3M119.85 345.5h1.3M122.85 345.5h1.3M124.85 345.5h1.3M129.85 345.5h1.3M93.85 346.5h3.3M99.85 346.5h4.3M107.85 346.5h1.3M109.85 346.5h2.3M112.85 346.5h1.3M114.85 346.5h1.3M116.85 346.5h2.3M120.85 346.5h1.3M187.85 346.5h1.3M71.85 347.5h1.3M84.85 347.5h1.3M94.85 347.5h2.3M99.85 347.5h1.3M101.85 347.5h1.3M103.85 347.5h1.3M106.85 347.5h1.3M108.85 347.5h1.3M113.85 347.5h1.3M124.85 347.5h1.3M126.85 347.5h2.3M129.85 347.5h1.3M135.85 347.5h1.3M75.85 348.5h1.3M83.85 348.5h1.3M86.85 348.5h8.3M96.85 348.5h2.3M99.85 348.5h3.3M103.85 348.5h1.3M106.85 348.5h1.3M114.85 348.5h4.3M119.85 348.5h2.3M122.85 348.5h1.3M124.85 348.5h1.3M131.85 348.5h1.3M142.85 348.5h1.3M68.85 349.5h1.3M74.85 349.5h1.3M79.85 349.5h1.3M81.85 349.5h1.3M83.85 349.5h1.3M85.85 349.5h1.3M88.85 349.5h2.3M91.85 349.5h1.3M93.85 349.5h1.3M95.85 349.5h3.3M99.85 349.5h6.3M106.85 349.5h2.3M109.85 349.5h1.3M111.85 349.5h5.3M117.85 349.5h4.3M131.85 349.5h1.3M69.85 350.5h1.3M73.85 350.5h1.3M75.85 350.5h1.3M85.85 350.5h2.3M89.85 350.5h2.3M92.85 350.5h2.3M96.85 350.5h9.3M106.85 350.5h6.3M116.85 350.5h2.3M120.85 350.5h3.3M124.85 350.5h2.3M127.85 350.5h1.3M132.85 350.5h1.3M73.85 351.5h1.3M80.85 351.5h4.3M86.85 351.5h2.3M90.85 351.5h1.3M92.85 351.5h11.3M104.85 351.5h2.3M107.85 351.5h4.3M112.85 351.5h5.3M118.85 351.5h1.3M121.85 351.5h2.3M130.85 351.5h1.3M194.85 351.5h1.3M68.85 352.5h1.3M73.85 352.5h1.3M78.85 352.5h1.3M86.85 352.5h3.3M90.85 352.5h1.3M92.85 352.5h16.3M109.85 352.5h9.3M121.85 352.5h1.3M128.85 352.5h1.3M67.85 353.5h1.3M71.85 353.5h1.3M79.85 353.5h1.3M84.85 353.5h2.3M87.85 353.5h13.3M102.85 353.5h16.3M120.85 353.5h2.3M123.85 353.5h1.3M127.85 353.5h1.3M131.85 353.5h2.3M135.85 353.5h1.3M61.85 354.5h1.3M80.85 354.5h1.3M82.85 354.5h2.3M85.85 354.5h2.3M89.85 354.5h1.3M91.85 354.5h1.3M93.85 354.5h4.3M98.85 354.5h13.3M112.85 354.5h8.3M121.85 354.5h1.3M125.85 354.5h1.3M63.85 355.5h1.3M70.85 355.5h1.3M72.85 355.5h1.3M78.85 355.5h1.3M84.85 355.5h3.3M89.85 355.5h27.3M117.85 355.5h1.3M119.85 355.5h4.3M124.85 355.5h3.3M128.85 355.5h1.3M132.85 355.5h1.3M142.85 355.5h1.3M63.85 356.5h1.3M79.85 356.5h1.3M82.85 356.5h1.3M88.85 356.5h1.3M91.85 356.5h24.3M116.85 356.5h7.3M125.85 356.5h1.3M136.85 356.5h1.3M63.85 357.5h1.3M66.85 357.5h2.3M74.85 357.5h1.3M78.85 357.5h1.3M80.85 357.5h3.3M84.85 357.5h2.3M88.85 357.5h16.3M105.85 357.5h22.3M129.85 357.5h2.3M68.85 358.5h1.3M71.85 358.5h1.3M73.85 358.5h1.3M76.85 358.5h1.3M78.85 358.5h7.3M86.85 358.5h21.3M108.85 358.5h12.3M122.85 358.5h4.3M127.85 358.5h1.3M131.85 358.5h1.3M151.85 358.5h1.3M50.85 359.5h1.3M65.85 359.5h1.3M72.85 359.5h4.3M78.85 359.5h1.3M80.85 359.5h1.3M83.85 359.5h3.3M88.85 359.5h31.3M120.85 359.5h1.3M123.85 359.5h4.3M129.85 359.5h1.3M68.85 360.5h1.3M72.85 360.5h1.3M75.85 360.5h2.3M80.85 360.5h1.3M82.85 360.5h2.3M85.85 360.5h33.3M119.85 360.5h2.3M122.85 360.5h1.3M124.85 360.5h2.3M127.85 360.5h1.3M129.85 360.5h1.3M133.85 360.5h3.3M186.85 360.5h1.3M70.85 361.5h4.3M75.85 361.5h2.3M78.85 361.5h3.3M82.85 361.5h2.3M85.85 361.5h36.3M123.85 361.5h3.3M127.85 361.5h4.3M138.85 361.5h1.3M153.85 361.5h1.3M194.85 361.5h1.3M62.85 362.5h1.3M66.85 362.5h1.3M68.85 362.5h5.3M75.85 362.5h1.3M77.85 362.5h6.3M84.85 362.5h1.3M86.85 362.5h28.3M115.85 362.5h6.3M122.85 362.5h1.3M127.85 362.5h2.3M132.85 362.5h1.3M136.85 362.5h2.3M143.85 362.5h2.3M157.85 362.5h1.3M190.85 362.5h2.3M61.85 363.5h1.3M69.85 363.5h1.3M71.85 363.5h2.3M74.85 363.5h3.3M79.85 363.5h1.3M82.85 363.5h36.3M119.85 363.5h1.3M122.85 363.5h3.3M128.85 363.5h2.3M135.85 363.5h1.3M137.85 363.5h1.3M56.85 364.5h1.3M69.85 364.5h1.3M72.85 364.5h1.3M79.85 364.5h2.3M82.85 364.5h2.3M85.85 364.5h8.3M94.85 364.5h27.3M123.85 364.5h1.3M129.85 364.5h1.3M132.85 364.5h1.3M136.85 364.5h1.3M146.85 364.5h1.3M65.85 365.5h2.3M75.85 365.5h2.3M81.85 365.5h1.3M83.85 365.5h1.3M85.85 365.5h39.3M125.85 365.5h2.3M128.85 365.5h2.3M132.85 365.5h1.3M134.85 365.5h2.3M137.85 365.5h1.3M142.85 365.5h1.3M180.85 365.5h1.3M55.85 366.5h1.3M64.85 366.5h1.3M66.85 366.5h1.3M69.85 366.5h2.3M75.85 366.5h3.3M79.85 366.5h1.3M82.85 366.5h39.3M125.85 366.5h3.3M131.85 366.5h2.3M135.85 366.5h1.3M147.85 366.5h1.3M188.85 366.5h1.3M195.85 366.5h1.3M206.85 366.5h1.3M60.85 367.5h2.3M64.85 367.5h1.3M66.85 367.5h1.3M71.85 367.5h1.3M74.85 367.5h3.3M81.85 367.5h2.3M84.85 367.5h33.3M118.85 367.5h3.3M122.85 367.5h6.3M131.85 367.5h2.3M140.85 367.5h1.3M52.85 368.5h1.3M67.85 368.5h1.3M69.85 368.5h1.3M73.85 368.5h2.3M77.85 368.5h1.3M79.85 368.5h3.3M83.85 368.5h3.3M87.85 368.5h1.3M89.85 368.5h13.3M103.85 368.5h16.3M120.85 368.5h4.3M126.85 368.5h3.3M131.85 368.5h2.3M140.85 368.5h1.3M177.85 368.5h1.3M62.85 369.5h2.3M67.85 369.5h1.3M72.85 369.5h2.3M77.85 369.5h2.3M80.85 369.5h21.3M102.85 369.5h20.3M123.85 369.5h2.3M128.85 369.5h1.3M130.85 369.5h1.3M132.85 369.5h1.3M134.85 369.5h1.3M145.85 369.5h1.3M200.85 369.5h1.3M58.85 370.5h1.3M60.85 370.5h1.3M62.85 370.5h1.3M66.85 370.5h1.3M70.85 370.5h1.3M72.85 370.5h2.3M75.85 370.5h2.3M79.85 370.5h1.3M82.85 370.5h5.3M88.85 370.5h28.3M117.85 370.5h1.3M119.85 370.5h1.3M121.85 370.5h1.3M125.85 370.5h1.3M127.85 370.5h2.3M130.85 370.5h2.3M202.85 370.5h1.3M57.85 371.5h1.3M65.85 371.5h1.3M73.85 371.5h1.3M76.85 371.5h1.3M79.85 371.5h1.3M81.85 371.5h8.3M90.85 371.5h34.3M126.85 371.5h2.3M131.85 371.5h1.3M134.85 371.5h1.3M144.85 371.5h1.3M181.85 371.5h1.3M59.85 372.5h1.3M63.85 372.5h2.3M66.85 372.5h1.3M70.85 372.5h1.3M75.85 372.5h40.3M116.85 372.5h8.3M125.85 372.5h2.3M129.85 372.5h1.3M131.85 372.5h1.3M134.85 372.5h1.3M175.85 372.5h1.3M64.85 373.5h1.3M67.85 373.5h2.3M72.85 373.5h1.3M75.85 373.5h1.3M77.85 373.5h1.3M79.85 373.5h41.3M121.85 373.5h3.3M127.85 373.5h1.3M130.85 373.5h1.3M70.85 374.5h1.3M75.85 374.5h3.3M80.85 374.5h3.3M84.85 374.5h33.3M119.85 374.5h1.3M124.85 374.5h1.3M126.85 374.5h1.3M131.85 374.5h1.3M133.85 374.5h1.3M136.85 374.5h1.3M138.85 374.5h1.3M144.85 374.5h1.3M60.85 375.5h1.3M62.85 375.5h2.3M67.85 375.5h1.3M75.85 375.5h1.3M77.85 375.5h1.3M80.85 375.5h3.3M84.85 375.5h30.3M116.85 375.5h2.3M119.85 375.5h2.3M122.85 375.5h1.3M124.85 375.5h2.3M127.85 375.5h1.3M155.85 375.5h1.3M194.85 375.5h1.3M202.85 375.5h1.3M64.85 376.5h1.3M66.85 376.5h1.3M69.85 376.5h2.3M74.85 376.5h1.3M77.85 376.5h39.3M117.85 376.5h1.3M119.85 376.5h1.3M121.85 376.5h2.3M124.85 376.5h2.3M129.85 376.5h3.3M139.85 376.5h1.3M64.85 377.5h2.3M69.85 377.5h1.3M72.85 377.5h1.3M76.85 377.5h1.3M78.85 377.5h9.3M88.85 377.5h32.3M124.85 377.5h5.3M131.85 377.5h1.3M142.85 377.5h1.3M150.85 377.5h1.3M54.85 378.5h1.3M58.85 378.5h1.3M64.85 378.5h2.3M69.85 378.5h1.3M73.85 378.5h1.3M75.85 378.5h3.3M81.85 378.5h2.3M84.85 378.5h9.3M94.85 378.5h16.3M111.85 378.5h3.3M116.85 378.5h3.3M120.85 378.5h2.3M123.85 378.5h7.3M135.85 378.5h1.3M139.85 378.5h1.3M147.85 378.5h1.3M150.85 378.5h1.3M153.85 378.5h1.3M186.85 378.5h1.3M203.85 378.5h1.3M207.85 378.5h1.3M64.85 379.5h1.3M68.85 379.5h1.3M74.85 379.5h1.3M76.85 379.5h2.3M79.85 379.5h36.3M116.85 379.5h6.3M123.85 379.5h3.3M128.85 379.5h1.3M130.85 379.5h1.3M133.85 379.5h3.3M139.85 379.5h1.3M70.85 380.5h1.3M74.85 380.5h1.3M78.85 380.5h7.3M86.85 380.5h34.3M121.85 380.5h1.3M123.85 380.5h1.3M127.85 380.5h3.3M131.85 380.5h1.3M194.85 380.5h1.3M68.85 381.5h1.3M72.85 381.5h2.3M78.85 381.5h1.3M80.85 381.5h35.3M116.85 381.5h4.3M122.85 381.5h1.3M126.85 381.5h1.3M128.85 381.5h1.3M133.85 381.5h1.3M62.85 382.5h2.3M66.85 382.5h1.3M70.85 382.5h1.3M72.85 382.5h17.3M90.85 382.5h25.3M116.85 382.5h2.3M119.85 382.5h3.3M123.85 382.5h4.3M58.85 383.5h1.3M60.85 383.5h1.3M77.85 383.5h38.3M116.85 383.5h2.3M119.85 383.5h2.3M122.85 383.5h1.3M124.85 383.5h1.3M130.85 383.5h1.3M77.85 384.5h1.3M81.85 384.5h1.3M84.85 384.5h4.3M89.85 384.5h30.3M120.85 384.5h4.3M126.85 384.5h1.3M133.85 384.5h1.3M135.85 384.5h1.3M141.85 384.5h1.3M163.85 384.5h1.3M179.85 384.5h1.3M76.85 385.5h12.3M89.85 385.5h25.3M116.85 385.5h3.3M122.85 385.5h1.3M124.85 385.5h1.3M126.85 385.5h1.3M128.85 385.5h1.3M140.85 385.5h1.3M66.85 386.5h1.3M78.85 386.5h12.3M91.85 386.5h9.3M101.85 386.5h12.3M114.85 386.5h3.3M119.85 386.5h1.3M122.85 386.5h2.3M125.85 386.5h4.3M138.85 386.5h1.3M185.85 386.5h1.3M77.85 387.5h32.3M110.85 387.5h6.3M118.85 387.5h1.3M120.85 387.5h1.3M122.85 387.5h1.3M127.85 387.5h1.3M169.85 387.5h1.3M75.85 388.5h5.3M81.85 388.5h34.3M117.85 388.5h1.3M119.85 388.5h1.3M127.85 388.5h1.3M139.85 388.5h2.3M202.85 388.5h1.3M68.85 389.5h1.3M70.85 389.5h2.3M76.85 389.5h2.3M79.85 389.5h31.3M113.85 389.5h4.3M118.85 389.5h1.3M120.85 389.5h1.3M122.85 389.5h1.3M126.85 389.5h2.3M129.85 389.5h1.3M137.85 389.5h1.3M202.85 389.5h1.3M71.85 390.5h1.3M76.85 390.5h10.3M87.85 390.5h3.3M91.85 390.5h6.3M98.85 390.5h16.3M116.85 390.5h2.3M120.85 390.5h3.3M124.85 390.5h1.3M130.85 390.5h1.3M74.85 391.5h1.3M77.85 391.5h37.3M115.85 391.5h1.3M117.85 391.5h3.3M121.85 391.5h1.3M123.85 391.5h1.3M126.85 391.5h1.3M75.85 392.5h1.3M77.85 392.5h4.3M82.85 392.5h5.3M88.85 392.5h6.3M95.85 392.5h4.3M100.85 392.5h14.3M115.85 392.5h3.3M120.85 392.5h1.3M157.85 392.5h1.3M76.85 393.5h33.3M110.85 393.5h6.3M117.85 393.5h2.3M120.85 393.5h1.3M129.85 393.5h1.3M135.85 393.5h1.3M146.85 393.5h1.3M72.85 394.5h2.3M77.85 394.5h19.3M97.85 394.5h15.3M113.85 394.5h2.3M116.85 394.5h2.3M122.85 394.5h1.3M131.85 394.5h1.3M70.85 395.5h2.3M73.85 395.5h10.3M84.85 395.5h2.3M87.85 395.5h4.3M92.85 395.5h2.3M95.85 395.5h18.3M114.85 395.5h1.3M117.85 395.5h1.3M119.85 395.5h1.3M123.85 395.5h1.3M125.85 395.5h1.3M127.85 395.5h1.3M71.85 396.5h1.3M73.85 396.5h2.3M76.85 396.5h2.3M79.85 396.5h32.3M112.85 396.5h2.3M115.85 396.5h2.3M118.85 396.5h1.3M121.85 396.5h2.3M124.85 396.5h1.3M140.85 396.5h1.3M70.85 397.5h2.3M73.85 397.5h1.3M75.85 397.5h27.3M103.85 397.5h7.3M111.85 397.5h2.3M114.85 397.5h3.3M118.85 397.5h1.3M120.85 397.5h1.3M126.85 397.5h1.3M181.85 397.5h1.3M67.85 398.5h1.3M70.85 398.5h1.3M74.85 398.5h42.3M119.85 398.5h2.3M122.85 398.5h1.3M67.85 399.5h2.3M74.85 399.5h7.3M82.85 399.5h31.3M116.85 399.5h1.3M122.85 399.5h1.3M127.85 399.5h1.3M172.85 399.5h1.3M68.85 400.5h1.3M70.85 400.5h44.3M115.85 400.5h2.3M123.85 400.5h2.3M135.85 400.5h1.3M67.85 401.5h1.3M70.85 401.5h1.3M72.85 401.5h43.3M116.85 401.5h1.3M119.85 401.5h1.3M182.85 401.5h1.3M63.85 402.5h3.3M69.85 402.5h3.3M73.85 402.5h40.3M115.85 402.5h1.3M118.85 402.5h2.3M126.85 402.5h1.3M128.85 402.5h1.3M169.85 402.5h1.3M193.85 402.5h1.3M67.85 403.5h1.3M69.85 403.5h1.3M71.85 403.5h39.3M111.85 403.5h3.3M115.85 403.5h3.3M122.85 403.5h1.3M124.85 403.5h2.3M170.85 403.5h1.3M198.85 403.5h1.3M63.85 404.5h1.3M65.85 404.5h3.3M69.85 404.5h1.3M71.85 404.5h26.3M98.85 404.5h13.3M112.85 404.5h1.3M116.85 404.5h1.3M119.85 404.5h1.3M121.85 404.5h2.3M150.85 404.5h1.3M58.85 405.5h1.3M62.85 405.5h27.3M90.85 405.5h22.3M113.85 405.5h5.3M122.85 405.5h1.3M124.85 405.5h1.3M126.85 405.5h1.3M132.85 405.5h1.3M207.85 405.5h1.3M58.85 406.5h1.3M61.85 406.5h3.3M67.85 406.5h46.3M119.85 406.5h1.3M130.85 406.5h1.3M60.85 407.5h1.3M62.85 407.5h1.3M66.85 407.5h54.3M122.85 407.5h1.3M125.85 407.5h1.3M127.85 407.5h1.3M56.85 408.5h1.3M63.85 408.5h2.3M66.85 408.5h15.3M82.85 408.5h31.3M114.85 408.5h1.3M124.85 408.5h1.3M127.85 408.5h1.3M55.85 409.5h1.3M58.85 409.5h2.3M61.85 409.5h4.3M66.85 409.5h25.3M92.85 409.5h12.3M105.85 409.5h5.3M111.85 409.5h1.3M114.85 409.5h1.3M116.85 409.5h1.3M119.85 409.5h2.3M123.85 409.5h2.3M128.85 409.5h1.3M54.85 410.5h2.3M58.85 410.5h4.3M63.85 410.5h51.3M115.85 410.5h1.3M117.85 410.5h4.3M173.85 410.5h1.3M54.85 411.5h2.3M57.85 411.5h1.3M59.85 411.5h53.3M117.85 411.5h1.3M123.85 411.5h1.3M128.85 411.5h1.3M149.85 411.5h1.3M53.85 412.5h3.3M57.85 412.5h39.3M97.85 412.5h19.3M118.85 412.5h1.3M201.85 412.5h1.3M53.85 413.5h1.3M56.85 413.5h3.3M60.85 413.5h28.3M89.85 413.5h27.3M121.85 413.5h2.3M124.85 413.5h1.3M127.85 413.5h1.3M145.85 413.5h1.3M52.85 414.5h1.3M55.85 414.5h3.3M59.85 414.5h2.3M62.85 414.5h50.3M114.85 414.5h3.3M119.85 414.5h1.3M54.85 415.5h2.3M57.85 415.5h21.3M79.85 415.5h14.3M94.85 415.5h17.3M113.85 415.5h3.3M121.85 415.5h1.3M123.85 415.5h1.3M51.85 416.5h1.3M54.85 416.5h3.3M58.85 416.5h1.3M60.85 416.5h10.3M71.85 416.5h17.3M89.85 416.5h23.3M117.85 416.5h2.3M124.85 416.5h1.3M127.85 416.5h1.3M54.85 417.5h2.3M57.85 417.5h25.3M83.85 417.5h32.3M121.85 417.5h1.3M52.85 418.5h1.3M54.85 418.5h26.3M81.85 418.5h22.3M104.85 418.5h6.3M111.85 418.5h3.3M117.85 418.5h3.3M54.85 419.5h25.3M80.85 419.5h32.3M113.85 419.5h1.3M115.85 419.5h1.3M119.85 419.5h2.3M122.85 419.5h1.3M125.85 419.5h1.3M205.85 419.5h1.3M54.85 420.5h2.3M57.85 420.5h8.3M66.85 420.5h8.3M75.85 420.5h9.3M85.85 420.5h27.3M114.85 420.5h3.3M118.85 420.5h2.3M123.85 420.5h1.3M127.85 420.5h1.3M187.85 420.5h1.3M52.85 421.5h1.3M54.85 421.5h2.3M57.85 421.5h56.3M114.85 421.5h3.3M120.85 421.5h1.3M127.85 421.5h1.3M138.85 421.5h1.3M143.85 421.5h1.3M55.85 422.5h5.3M61.85 422.5h34.3M96.85 422.5h14.3M111.85 422.5h1.3M115.85 422.5h2.3M128.85 422.5h1.3M53.85 423.5h3.3M57.85 423.5h53.3M111.85 423.5h1.3M114.85 423.5h2.3M53.85 424.5h13.3M67.85 424.5h16.3M84.85 424.5h8.3M93.85 424.5h20.3M119.85 424.5h1.3M130.85 424.5h1.3M53.85 425.5h56.3M111.85 425.5h2.3M114.85 425.5h1.3M121.85 425.5h1.3M173.85 425.5h1.3M54.85 426.5h33.3M88.85 426.5h21.3M110.85 426.5h1.3M112.85 426.5h4.3M123.85 426.5h1.3M183.85 426.5h1.3M185.85 426.5h1.3M54.85 427.5h56.3M111.85 427.5h3.3M124.85 427.5h1.3M133.85 427.5h1.3M52.85 428.5h58.3M111.85 428.5h5.3M118.85 428.5h1.3M120.85 428.5h1.3M124.85 428.5h2.3M134.85 428.5h1.3M55.85 429.5h48.3M104.85 429.5h4.3M109.85 429.5h4.3M114.85 429.5h1.3M118.85 429.5h1.3M122.85 429.5h1.3M127.85 429.5h1.3M138.85 429.5h1.3M146.85 429.5h1.3M53.85 430.5h20.3M74.85 430.5h22.3M97.85 430.5h13.3M111.85 430.5h6.3M119.85 430.5h2.3M122.85 430.5h1.3M124.85 430.5h2.3M131.85 430.5h1.3M140.85 430.5h1.3M53.85 431.5h32.3M86.85 431.5h27.3M114.85 431.5h1.3M116.85 431.5h2.3M120.85 431.5h1.3M122.85 431.5h1.3M55.85 432.5h9.3M65.85 432.5h22.3M88.85 432.5h25.3M114.85 432.5h1.3M116.85 432.5h1.3M125.85 432.5h2.3M128.85 432.5h1.3M53.85 433.5h34.3M88.85 433.5h23.3M112.85 433.5h2.3M118.85 433.5h1.3M121.85 433.5h2.3M125.85 433.5h1.3M127.85 433.5h2.3M156.85 433.5h1.3M54.85 434.5h57.3M113.85 434.5h1.3M116.85 434.5h1.3M120.85 434.5h1.3M123.85 434.5h1.3M127.85 434.5h1.3M52.85 435.5h1.3M54.85 435.5h63.3M123.85 435.5h2.3M171.85 435.5h1.3M54.85 436.5h28.3M83.85 436.5h36.3M128.85 436.5h1.3M184.85 436.5h1.3M53.85 437.5h39.3M93.85 437.5h24.3M177.85 437.5h1.3M190.85 437.5h1.3M55.85 438.5h49.3M105.85 438.5h6.3M112.85 438.5h2.3M116.85 438.5h1.3M119.85 438.5h2.3M53.85 439.5h1.3M55.85 439.5h59.3M116.85 439.5h1.3M123.85 439.5h1.3M54.85 440.5h60.3M115.85 440.5h3.3M125.85 440.5h2.3M128.85 440.5h1.3M130.85 440.5h1.3M53.85 441.5h1.3M55.85 441.5h39.3M95.85 441.5h19.3M115.85 441.5h1.3M118.85 441.5h1.3M122.85 441.5h1.3M52.85 442.5h1.3M55.85 442.5h52.3M108.85 442.5h2.3M112.85 442.5h1.3M114.85 442.5h2.3M127.85 442.5h1.3M161.85 442.5h1.3M53.85 443.5h57.3M111.85 443.5h3.3M121.85 443.5h1.3M123.85 443.5h1.3M55.85 444.5h25.3M81.85 444.5h32.3M114.85 444.5h1.3M120.85 444.5h2.3M136.85 444.5h1.3M155.85 444.5h1.3M53.85 445.5h57.3M111.85 445.5h2.3M114.85 445.5h1.3M116.85 445.5h1.3M120.85 445.5h4.3M52.85 446.5h64.3M117.85 446.5h2.3M123.85 446.5h1.3M167.85 446.5h1.3M187.85 446.5h1.3M53.85 447.5h24.3M78.85 447.5h18.3M97.85 447.5h14.3M113.85 447.5h1.3M121.85 447.5h1.3M129.85 447.5h1.3M144.85 447.5h1.3M55.85 448.5h23.3M79.85 448.5h28.3M108.85 448.5h1.3M110.85 448.5h3.3M115.85 448.5h2.3M121.85 448.5h1.3M174.85 448.5h1.3M53.85 449.5h57.3M111.85 449.5h3.3M115.85 449.5h1.3M117.85 449.5h1.3M121.85 449.5h1.3M130.85 449.5h1.3M133.85 449.5h1.3M52.85 450.5h1.3M54.85 450.5h56.3M112.85 450.5h1.3M115.85 450.5h1.3M118.85 450.5h1.3M125.85 450.5h1.3M156.85 450.5h1.3M169.85 450.5h1.3M54.85 451.5h13.3M68.85 451.5h42.3M111.85 451.5h3.3M115.85 451.5h4.3" stroke="#000" stroke-width="1.35"/>
<rect x="49" y="278.5" width="160" height="174.5" fill="none" stroke="#111" stroke-width="1.6"/>
<path d="M49.00 453.00v5.2M61.04 453.00v2.6M68.08 453.00v2.6M73.08 453.00v2.6M76.96 453.00v2.6M80.13 453.00v2.6M82.80 453.00v2.6M85.12 453.00v2.6M87.17 453.00v2.6M89.00 453.00v5.2M101.04 453.00v2.6M108.08 453.00v2.6M113.08 453.00v2.6M116.96 453.00v2.6M120.13 453.00v2.6M122.80 453.00v2.6M125.12 453.00v2.6M127.17 453.00v2.6M129.00 453.00v5.2M141.04 453.00v2.6M148.08 453.00v2.6M153.08 453.00v2.6M156.96 453.00v2.6M160.13 453.00v2.6M162.80 453.00v2.6M165.12 453.00v2.6M167.17 453.00v2.6M169.00 453.00v5.2M181.04 453.00v2.6M188.08 453.00v2.6M193.08 453.00v2.6M196.96 453.00v2.6M200.13 453.00v2.6M202.80 453.00v2.6M205.12 453.00v2.6M207.17 453.00v2.6M209.00 453.00v5.2" stroke="#111" stroke-width="1.1" fill="none" />
<path d="M49.00 452.00h-6M49.00 438.94h-3M49.00 431.30h-3M49.00 425.89h-3M49.00 421.68h-3M49.00 418.25h-3M49.00 415.34h-3M49.00 412.83h-3M49.00 410.61h-3M49.00 408.62h-6M49.00 395.57h-3M49.00 387.93h-3M49.00 382.51h-3M49.00 378.31h-3M49.00 374.87h-3M49.00 371.97h-3M49.00 369.45h-3M49.00 367.23h-3M49.00 365.25h-6M49.00 352.19h-3M49.00 344.55h-3M49.00 339.14h-3M49.00 334.93h-3M49.00 331.50h-3M49.00 328.59h-3M49.00 326.08h-3M49.00 323.86h-3M49.00 321.88h-6M49.00 308.82h-3M49.00 301.18h-3M49.00 295.76h-3M49.00 291.56h-3M49.00 288.12h-3M49.00 285.22h-3M49.00 282.70h-3M49.00 280.48h-3M49.00 278.50h-6" stroke="#111" stroke-width="1.1" fill="none" />
<text x="50.2" y="472" font-size="12" font-family="Liberation Sans" text-anchor="middle" fill="#111" stroke="#111" stroke-width="0.35" textLength="17" lengthAdjust="spacingAndGlyphs">10<tspan dy="-5.6" font-size="10">0</tspan></text>
<text x="90.2" y="472" font-size="12" font-family="Liberation Sans" text-anchor="middle" fill="#111" stroke="#111" stroke-width="0.35" textLength="17" lengthAdjust="spacingAndGlyphs">10<tspan dy="-5.6" font-size="10">1</tspan></text>
<text x="130.2" y="472" font-size="12" font-family="Liberation Sans" text-anchor="middle" fill="#111" stroke="#111" stroke-width="0.35" textLength="17" lengthAdjust="spacingAndGlyphs">10<tspan dy="-5.6" font-size="10">2</tspan></text>
<text x="170.2" y="472" font-size="12" font-family="Liberation Sans" text-anchor="middle" fill="#111" stroke="#111" stroke-width="0.35" textLength="17" lengthAdjust="spacingAndGlyphs">10<tspan dy="-5.6" font-size="10">3</tspan></text>
<text x="210.2" y="472" font-size="12" font-family="Liberation Sans" text-anchor="middle" fill="#111" stroke="#111" stroke-width="0.35" textLength="17" lengthAdjust="spacingAndGlyphs">10<tspan dy="-5.6" font-size="10">4</tspan></text>
<text x="39.8" y="453.3" font-size="12" font-family="Liberation Sans" text-anchor="middle" fill="#111" stroke="#111" stroke-width="0.35" textLength="17" lengthAdjust="spacingAndGlyphs" transform="rotate(-90 39.8 453.3)">10<tspan dy="-5.6" font-size="10">0</tspan></text>
<text x="39.8" y="409.8" font-size="12" font-family="Liberation Sans" text-anchor="middle" fill="#111" stroke="#111" stroke-width="0.35" textLength="17" lengthAdjust="spacingAndGlyphs" transform="rotate(-90 39.8 409.8)">10<tspan dy="-5.6" font-size="10">1</tspan></text>
<text x="39.8" y="366.3" font-size="12" font-family="Liberation Sans" text-anchor="middle" fill="#111" stroke="#111" stroke-width="0.35" textLength="17" lengthAdjust="spacingAndGlyphs" transform="rotate(-90 39.8 366.3)">10<tspan dy="-5.6" font-size="10">2</tspan></text>
<text x="39.8" y="322.8" font-size="12" font-family="Liberation Sans" text-anchor="middle" fill="#111" stroke="#111" stroke-width="0.35" textLength="17" lengthAdjust="spacingAndGlyphs" transform="rotate(-90 39.8 322.8)">10<tspan dy="-5.6" font-size="10">3</tspan></text>
<text x="39.8" y="279.3" font-size="12" font-family="Liberation Sans" text-anchor="middle" fill="#111" stroke="#111" stroke-width="0.35" textLength="17" lengthAdjust="spacingAndGlyphs" transform="rotate(-90 39.8 279.3)">10<tspan dy="-5.6" font-size="10">4</tspan></text>
<rect x="50.6" y="321.4" width="53.2" height="131" fill="none" stroke="#dd2222" stroke-width="2"/>
<rect x="121.2" y="323.2" width="79.8" height="129.5" fill="none" stroke="#2233cc" stroke-width="2"/>
<text x="130.8" y="305.3" font-size="15" font-family="Liberation Serif" textLength="59.5" lengthAdjust="spacingAndGlyphs">3.2±0.4%</text>
<line x1="8.20" y1="422.70" x2="8.20" y2="315.60" stroke="#111" stroke-width="1.4" />
<path d="M3.4 317.6L8.2 307.6L13.0 317.6Z" stroke="none" stroke-width="0" fill="#111" />
<text x="13.2" y="476.7" font-size="15.5" font-family="Liberation Serif" fill="#111" transform="rotate(-90 13.2 476.7)">CD48<tspan dy="-5" font-size="10.5">PE</tspan></text>
<text x="20" y="494" font-size="15" font-family="Liberation Serif" fill="#111">CD41<tspan dy="-5" font-size="10">FITC</tspan></text>
<line x1="87.70" y1="488.50" x2="181.20" y2="488.50" stroke="#111" stroke-width="1.4" />
<path d="M178.2 483.7L189.2 488.5L178.2 493.3Z" stroke="none" stroke-width="0" fill="#111" />
<text x="53.5" y="527" font-size="15" font-family="Liberation Serif" fill="#111" textLength="151" lengthAdjust="spacingAndGlyphs">Thy<tspan dy="-5" font-size="10">low</tspan><tspan dy="5">Sca-1</tspan><tspan dy="-5" font-size="10">+</tspan><tspan dy="5">Lin</tspan><tspan dy="-5" font-size="10">-</tspan><tspan dy="5">Mac-1</tspan><tspan dy="-5" font-size="10">+</tspan></text>
<rect x="48" y="535.2" width="162" height="173.0999999999999" fill="none" stroke="#111" stroke-width="1.6"/>
<path d="M48.00 708.30v5.2M60.19 708.30v2.6M67.32 708.30v2.6M72.38 708.30v2.6M76.31 708.30v2.6M79.52 708.30v2.6M82.23 708.30v2.6M84.58 708.30v2.6M86.65 708.30v2.6M88.50 708.30v5.2M100.69 708.30v2.6M107.82 708.30v2.6M112.88 708.30v2.6M116.81 708.30v2.6M120.02 708.30v2.6M122.73 708.30v2.6M125.08 708.30v2.6M127.15 708.30v2.6M129.00 708.30v5.2M141.19 708.30v2.6M148.32 708.30v2.6M153.38 708.30v2.6M157.31 708.30v2.6M160.52 708.30v2.6M163.23 708.30v2.6M165.58 708.30v2.6M167.65 708.30v2.6M169.50 708.30v5.2M181.69 708.30v2.6M188.82 708.30v2.6M193.88 708.30v2.6M197.81 708.30v2.6M201.02 708.30v2.6M203.73 708.30v2.6M206.08 708.30v2.6M208.15 708.30v2.6M210.00 708.30v5.2" stroke="#111" stroke-width="1.1" fill="none" />
<path d="M48.00 708.30h-5.5M48.00 696.76h-3M48.00 685.22h-3M48.00 673.68h-3M48.00 662.14h-3M48.00 650.60h-5.5M48.00 639.06h-3M48.00 627.52h-3M48.00 615.98h-3M48.00 604.44h-3M48.00 592.90h-5.5M48.00 581.36h-3M48.00 569.82h-3M48.00 558.28h-3M48.00 546.74h-3M48.00 535.20h-5.5" stroke="#111" stroke-width="1.1" fill="none" />
<text x="49.2" y="727.8" font-size="12" font-family="Liberation Sans" text-anchor="middle" fill="#111" stroke="#111" stroke-width="0.35" textLength="17" lengthAdjust="spacingAndGlyphs">10<tspan dy="-5.6" font-size="10">0</tspan></text>
<text x="89.7" y="727.8" font-size="12" font-family="Liberation Sans" text-anchor="middle" fill="#111" stroke="#111" stroke-width="0.35" textLength="17" lengthAdjust="spacingAndGlyphs">10<tspan dy="-5.6" font-size="10">1</tspan></text>
<text x="130.2" y="727.8" font-size="12" font-family="Liberation Sans" text-anchor="middle" fill="#111" stroke="#111" stroke-width="0.35" textLength="17" lengthAdjust="spacingAndGlyphs">10<tspan dy="-5.6" font-size="10">2</tspan></text>
<text x="170.7" y="727.8" font-size="12" font-family="Liberation Sans" text-anchor="middle" fill="#111" stroke="#111" stroke-width="0.35" textLength="17" lengthAdjust="spacingAndGlyphs">10<tspan dy="-5.6" font-size="10">3</tspan></text>
<text x="211.2" y="727.8" font-size="12" font-family="Liberation Sans" text-anchor="middle" fill="#111" stroke="#111" stroke-width="0.35" textLength="17" lengthAdjust="spacingAndGlyphs">10<tspan dy="-5.6" font-size="10">4</tspan></text>
<text x="38.0" y="708.3" font-size="12.5" font-family="Liberation Sans" text-anchor="middle" fill="#111" stroke="#111" stroke-width="0.3" transform="rotate(-90 38.0 708.3)">0</text>
<text x="38.0" y="650.6" font-size="12.5" font-family="Liberation Sans" text-anchor="middle" fill="#111" stroke="#111" stroke-width="0.3" transform="rotate(-90 38.0 650.6)">5</text>
<text x="38.0" y="592.9" font-size="12.5" font-family="Liberation Sans" text-anchor="middle" fill="#111" stroke="#111" stroke-width="0.3" transform="rotate(-90 38.0 592.9)">10</text>
<text x="38.0" y="535.2" font-size="12.5" font-family="Liberation Sans" text-anchor="middle" fill="#111" stroke="#111" stroke-width="0.3" transform="rotate(-90 38.0 535.2)">15</text>
<path d="M105.2 597.7H158.9M105.2 592.9V603.3M158.9 592.9V603.3" stroke="#2233cc" stroke-width="2.4" fill="none" />
<text x="103.8" y="586.0" font-size="15" font-family="Liberation Serif" textLength="58" lengthAdjust="spacingAndGlyphs">2.7±0.1%</text>
<line x1="8.50" y1="680.30" x2="8.50" y2="573.40" stroke="#111" stroke-width="1.4" />
<path d="M3.7 575.4L8.5 565.4L13.3 575.4Z" stroke="none" stroke-width="0" fill="#111" />
<text x="13.5" y="735.5" font-size="16" font-family="Liberation Serif" fill="#111" transform="rotate(-90 13.5 735.5)">Counts</text>
<text x="20" y="748.5" font-size="15" font-family="Liberation Serif" fill="#111">CD41<tspan dy="-5" font-size="10">FITC</tspan></text>
<line x1="88.50" y1="744.50" x2="181.20" y2="744.50" stroke="#111" stroke-width="1.4" />
<path d="M178.2 739.7L189.2 744.5L178.2 749.3Z" stroke="none" stroke-width="0" fill="#111" />
<path d="M48.0 708.3H47.6V685.1H49.4V700.2H51.4V696.7H56.2V708.3H57.5V685.1H59.0V696.7H60.2V685.1H61.5V696.7H62.5V685.1H63.7V673.5H65.7V685.1H67.7V661.9H69.8V696.7H71.1V673.5H72.2V661.9H74.2V650.3H76.3V661.9H77.2V650.3H80.6V661.9H81.0V638.7H82.0V615.5H84.0V627.1H85.2V638.7H86.3V661.9H87.4V627.1H89.5V638.7H90.8V650.3H92.0V661.9H92.9V673.5H97.0V672.3H99.5V685.1H101.2V708.3H102.0V685.1H104.7V696.7H106.4V708.3H108.2V696.7H110.0V708.3H112.5V696.7H115.0V708.3H121.0V685.1H122.6V708.3H128.7V696.7H130.3V708.3H135.3V696.7H136.9V708.3H151.3V696.7H152.8V708.3H210.0" stroke="#111" stroke-width="1.25" fill="none" />
<line x1="316.70" y1="279.60" x2="513.56" y2="279.60" stroke="#8a8a8a" stroke-width="1" />
<line x1="513.56" y1="279.60" x2="513.56" y2="393.90" stroke="#8a8a8a" stroke-width="1" />
<line x1="321.20" y1="279.60" x2="321.20" y2="393.90" stroke="#333" stroke-width="1.1" />
<line x1="316.70" y1="393.90" x2="513.56" y2="393.90" stroke="#444" stroke-width="1.3" />
<path d="M316.7 279.60H321.2M316.7 308.18H321.2M316.7 336.75H321.2M316.7 365.32H321.2M316.7 393.90H321.2M321.20 393.90v4M353.26 393.90v4M385.32 393.90v4M417.38 393.90v4M449.44 393.90v4M481.50 393.90v4M513.56 393.90v4" stroke="#444" stroke-width="1" fill="none" />
<text x="310.3" y="284.9" font-size="13.5" font-family="Liberation Serif" text-anchor="end">100.00</text>
<text x="310.3" y="313.5" font-size="13.5" font-family="Liberation Serif" text-anchor="end">10.00</text>
<text x="310.3" y="342.1" font-size="13.5" font-family="Liberation Serif" text-anchor="end">1.00</text>
<text x="310.3" y="370.6" font-size="13.5" font-family="Liberation Serif" text-anchor="end">0.10</text>
<text x="310.3" y="399.2" font-size="13.5" font-family="Liberation Serif" text-anchor="end">0.01</text>
<text x="319.4" y="412.6" font-size="14.5" font-family="Liberation Serif" text-anchor="middle">4</text>
<text x="351.5" y="412.6" font-size="14.5" font-family="Liberation Serif" text-anchor="middle">6</text>
<text x="383.5" y="412.6" font-size="14.5" font-family="Liberation Serif" text-anchor="middle">8</text>
<text x="415.6" y="412.6" font-size="14.5" font-family="Liberation Serif" text-anchor="middle">10</text>
<text x="447.6" y="412.6" font-size="14.5" font-family="Liberation Serif" text-anchor="middle">12</text>
<text x="479.7" y="412.6" font-size="14.5" font-family="Liberation Serif" text-anchor="middle">14</text>
<text x="511.8" y="412.6" font-size="14.5" font-family="Liberation Serif" text-anchor="middle">16</text>
<line x1="321.20" y1="351.50" x2="513.56" y2="351.50" stroke="#000" stroke-width="2.2" />
<text x="257.5" y="343.8" font-size="15.5" font-family="Liberation Serif" text-anchor="middle" fill="#111" transform="rotate(-90 257.5 343.8)">% Donor-derived</text>
<text x="273" y="343.8" font-size="15.5" font-family="Liberation Serif" text-anchor="middle" fill="#111" transform="rotate(-90 273 343.8)">myeloid cells</text>
<polyline points="321.2,287.1 353.3,288.8 385.3,288.5 449.4,287.5 513.6,286.7" fill="none" stroke="#e0141e" stroke-width="2.2"/>
<polyline points="321.2,307.4 353.3,305.3 385.3,299.5 449.4,299.5 513.6,297.3" fill="none" stroke="#e0141e" stroke-width="2.2"/>
<polyline points="321.2,307.4 353.3,313.4 385.3,326.3 449.4,326.6 513.6,322.4" fill="none" stroke="#e0141e" stroke-width="2.2"/>
<polyline points="321.2,336.4 353.3,319.1 385.3,310.4 449.4,309.0 513.6,302.9" fill="none" stroke="#e0141e" stroke-width="2.2"/>
<polyline points="321.2,320.8 353.3,364.1 385.3,362.5 449.4,359.4 513.6,363.3" fill="none" stroke="#e0141e" stroke-width="2.2"/>
<circle cx="321.2" cy="287.1" r="6" fill="#fff" stroke="#c42530" stroke-width="1.2"/>
<circle cx="353.3" cy="288.8" r="6" fill="#fff" stroke="#c42530" stroke-width="1.2"/>
<circle cx="385.3" cy="288.5" r="6" fill="#fff" stroke="#c42530" stroke-width="1.2"/>
<circle cx="449.4" cy="287.5" r="6" fill="#fff" stroke="#c42530" stroke-width="1.2"/>
<circle cx="513.6" cy="286.7" r="6" fill="#fff" stroke="#c42530" stroke-width="1.2"/>
<circle cx="321.2" cy="307.4" r="6" fill="#fff" stroke="#c42530" stroke-width="1.2"/>
<circle cx="353.3" cy="305.3" r="6" fill="#fff" stroke="#c42530" stroke-width="1.2"/>
<circle cx="385.3" cy="299.5" r="6" fill="#fff" stroke="#c42530" stroke-width="1.2"/>
<circle cx="449.4" cy="299.5" r="6" fill="#fff" stroke="#c42530" stroke-width="1.2"/>
<circle cx="513.6" cy="297.3" r="6" fill="#fff" stroke="#c42530" stroke-width="1.2"/>
<circle cx="321.2" cy="307.4" r="6" fill="#fff" stroke="#c42530" stroke-width="1.2"/>
<circle cx="353.3" cy="313.4" r="6" fill="#fff" stroke="#c42530" stroke-width="1.2"/>
<circle cx="385.3" cy="326.3" r="6" fill="#fff" stroke="#c42530" stroke-width="1.2"/>
<circle cx="449.4" cy="326.6" r="6" fill="#fff" stroke="#c42530" stroke-width="1.2"/>
<circle cx="513.6" cy="322.4" r="6" fill="#fff" stroke="#c42530" stroke-width="1.2"/>
<circle cx="321.2" cy="336.4" r="6" fill="#fff" stroke="#c42530" stroke-width="1.2"/>
<circle cx="353.3" cy="319.1" r="6" fill="#fff" stroke="#c42530" stroke-width="1.2"/>
<circle cx="385.3" cy="310.4" r="6" fill="#fff" stroke="#c42530" stroke-width="1.2"/>
<circle cx="449.4" cy="309.0" r="6" fill="#fff" stroke="#c42530" stroke-width="1.2"/>
<circle cx="513.6" cy="302.9" r="6" fill="#fff" stroke="#c42530" stroke-width="1.2"/>
<circle cx="321.2" cy="320.8" r="6" fill="#fff" stroke="#c42530" stroke-width="1.2"/>
<circle cx="353.3" cy="364.1" r="6" fill="#fff" stroke="#c42530" stroke-width="1.2"/>
<circle cx="385.3" cy="362.5" r="6" fill="#fff" stroke="#c42530" stroke-width="1.2"/>
<circle cx="449.4" cy="359.4" r="6" fill="#fff" stroke="#c42530" stroke-width="1.2"/>
<circle cx="513.6" cy="363.3" r="6" fill="#fff" stroke="#c42530" stroke-width="1.2"/>
<polyline points="321.2,368.3 353.3,366.5 385.3,358.7 449.4,360.4 513.6,364.2" fill="none" stroke="#2232d4" stroke-width="2.2"/>
<polyline points="321.2,372.0 353.3,368.3 385.3,364.4 449.4,367.1 513.6,367.0" fill="none" stroke="#2232d4" stroke-width="2.2"/>
<polyline points="321.2,375.0 353.3,372.0 385.3,375.0 449.4,370.0 513.6,371.0" fill="none" stroke="#2232d4" stroke-width="2.2"/>
<polyline points="321.2,378.8 353.3,377.0 385.3,377.9 449.4,378.7 513.6,374.8" fill="none" stroke="#2232d4" stroke-width="2.2"/>
<polyline points="321.2,379.6 353.3,379.6 385.3,380.8 449.4,381.5 513.6,378.7" fill="none" stroke="#2232d4" stroke-width="2.2"/>
<polyline points="321.2,368.3 353.3,379.6 385.3,364.4 449.4,370.0 513.6,381.5" fill="none" stroke="#2232d4" stroke-width="2.2"/>
<polyline points="321.2,375.0 353.3,368.3 385.3,380.8 449.4,367.1 513.6,371.0" fill="none" stroke="#2232d4" stroke-width="2.2"/>
<polyline points="321.2,379.6 353.3,372.0 385.3,358.7 449.4,378.7 513.6,367.0" fill="none" stroke="#2232d4" stroke-width="2.2"/>
<polyline points="321.2,372.0 353.3,377.0 385.3,375.0 449.4,381.5 513.6,374.8" fill="none" stroke="#2232d4" stroke-width="2.2"/>
<circle cx="321.2" cy="368.3" r="6" fill="#fff" stroke="#3040c0" stroke-width="1.2"/>
<circle cx="353.3" cy="366.5" r="6" fill="#fff" stroke="#3040c0" stroke-width="1.2"/>
<circle cx="385.3" cy="358.7" r="6" fill="#fff" stroke="#3040c0" stroke-width="1.2"/>
<circle cx="449.4" cy="360.4" r="6" fill="#fff" stroke="#3040c0" stroke-width="1.2"/>
<circle cx="513.6" cy="364.2" r="6" fill="#fff" stroke="#3040c0" stroke-width="1.2"/>
<circle cx="321.2" cy="372.0" r="6" fill="#fff" stroke="#3040c0" stroke-width="1.2"/>
<circle cx="353.3" cy="368.3" r="6" fill="#fff" stroke="#3040c0" stroke-width="1.2"/>
<circle cx="385.3" cy="364.4" r="6" fill="#fff" stroke="#3040c0" stroke-width="1.2"/>
<circle cx="449.4" cy="367.1" r="6" fill="#fff" stroke="#3040c0" stroke-width="1.2"/>
<circle cx="513.6" cy="367.0" r="6" fill="#fff" stroke="#3040c0" stroke-width="1.2"/>
<circle cx="321.2" cy="375.0" r="6" fill="#fff" stroke="#3040c0" stroke-width="1.2"/>
<circle cx="353.3" cy="372.0" r="6" fill="#fff" stroke="#3040c0" stroke-width="1.2"/>
<circle cx="385.3" cy="375.0" r="6" fill="#fff" stroke="#3040c0" stroke-width="1.2"/>
<circle cx="449.4" cy="370.0" r="6" fill="#fff" stroke="#3040c0" stroke-width="1.2"/>
<circle cx="513.6" cy="371.0" r="6" fill="#fff" stroke="#3040c0" stroke-width="1.2"/>
<circle cx="321.2" cy="378.8" r="6" fill="#fff" stroke="#3040c0" stroke-width="1.2"/>
<circle cx="353.3" cy="377.0" r="6" fill="#fff" stroke="#3040c0" stroke-width="1.2"/>
<circle cx="385.3" cy="377.9" r="6" fill="#fff" stroke="#3040c0" stroke-width="1.2"/>
<circle cx="449.4" cy="378.7" r="6" fill="#fff" stroke="#3040c0" stroke-width="1.2"/>
<circle cx="513.6" cy="374.8" r="6" fill="#fff" stroke="#3040c0" stroke-width="1.2"/>
<circle cx="321.2" cy="379.6" r="6" fill="#fff" stroke="#3040c0" stroke-width="1.2"/>
<circle cx="353.3" cy="379.6" r="6" fill="#fff" stroke="#3040c0" stroke-width="1.2"/>
<circle cx="385.3" cy="380.8" r="6" fill="#fff" stroke="#3040c0" stroke-width="1.2"/>
<circle cx="449.4" cy="381.5" r="6" fill="#fff" stroke="#3040c0" stroke-width="1.2"/>
<circle cx="513.6" cy="378.7" r="6" fill="#fff" stroke="#3040c0" stroke-width="1.2"/>
<circle cx="321.2" cy="368.3" r="6" fill="#fff" stroke="#3040c0" stroke-width="1.2"/>
<circle cx="353.3" cy="379.6" r="6" fill="#fff" stroke="#3040c0" stroke-width="1.2"/>
<circle cx="385.3" cy="364.4" r="6" fill="#fff" stroke="#3040c0" stroke-width="1.2"/>
<circle cx="449.4" cy="370.0" r="6" fill="#fff" stroke="#3040c0" stroke-width="1.2"/>
<circle cx="513.6" cy="381.5" r="6" fill="#fff" stroke="#3040c0" stroke-width="1.2"/>
<circle cx="321.2" cy="375.0" r="6" fill="#fff" stroke="#3040c0" stroke-width="1.2"/>
<circle cx="353.3" cy="368.3" r="6" fill="#fff" stroke="#3040c0" stroke-width="1.2"/>
<circle cx="385.3" cy="380.8" r="6" fill="#fff" stroke="#3040c0" stroke-width="1.2"/>
<circle cx="449.4" cy="367.1" r="6" fill="#fff" stroke="#3040c0" stroke-width="1.2"/>
<circle cx="513.6" cy="371.0" r="6" fill="#fff" stroke="#3040c0" stroke-width="1.2"/>
<circle cx="321.2" cy="379.6" r="6" fill="#fff" stroke="#3040c0" stroke-width="1.2"/>
<circle cx="353.3" cy="372.0" r="6" fill="#fff" stroke="#3040c0" stroke-width="1.2"/>
<circle cx="385.3" cy="358.7" r="6" fill="#fff" stroke="#3040c0" stroke-width="1.2"/>
<circle cx="449.4" cy="378.7" r="6" fill="#fff" stroke="#3040c0" stroke-width="1.2"/>
<circle cx="513.6" cy="367.0" r="6" fill="#fff" stroke="#3040c0" stroke-width="1.2"/>
<circle cx="321.2" cy="372.0" r="6" fill="#fff" stroke="#3040c0" stroke-width="1.2"/>
<circle cx="353.3" cy="377.0" r="6" fill="#fff" stroke="#3040c0" stroke-width="1.2"/>
<circle cx="385.3" cy="375.0" r="6" fill="#fff" stroke="#3040c0" stroke-width="1.2"/>
<circle cx="449.4" cy="381.5" r="6" fill="#fff" stroke="#3040c0" stroke-width="1.2"/>
<circle cx="513.6" cy="374.8" r="6" fill="#fff" stroke="#3040c0" stroke-width="1.2"/>
<line x1="316.70" y1="431.40" x2="513.56" y2="431.40" stroke="#8a8a8a" stroke-width="1" />
<line x1="513.56" y1="431.40" x2="513.56" y2="545.20" stroke="#8a8a8a" stroke-width="1" />
<line x1="321.20" y1="431.40" x2="321.20" y2="545.20" stroke="#333" stroke-width="1.1" />
<line x1="316.70" y1="545.20" x2="513.56" y2="545.20" stroke="#444" stroke-width="1.3" />
<path d="M316.7 431.40H321.2M316.7 459.85H321.2M316.7 488.30H321.2M316.7 516.75H321.2M316.7 545.20H321.2M321.20 545.20v4M353.26 545.20v4M385.32 545.20v4M417.38 545.20v4M449.44 545.20v4M481.50 545.20v4M513.56 545.20v4" stroke="#444" stroke-width="1" fill="none" />
<text x="310.3" y="436.7" font-size="13.5" font-family="Liberation Serif" text-anchor="end">100.00</text>
<text x="310.3" y="465.2" font-size="13.5" font-family="Liberation Serif" text-anchor="end">10.00</text>
<text x="310.3" y="493.6" font-size="13.5" font-family="Liberation Serif" text-anchor="end">1.00</text>
<text x="310.3" y="522.0" font-size="13.5" font-family="Liberation Serif" text-anchor="end">0.10</text>
<text x="310.3" y="550.5" font-size="13.5" font-family="Liberation Serif" text-anchor="end">0.01</text>
<text x="319.4" y="563.9" font-size="14.5" font-family="Liberation Serif" text-anchor="middle">4</text>
<text x="351.5" y="563.9" font-size="14.5" font-family="Liberation Serif" text-anchor="middle">6</text>
<text x="383.5" y="563.9" font-size="14.5" font-family="Liberation Serif" text-anchor="middle">8</text>
<text x="415.6" y="563.9" font-size="14.5" font-family="Liberation Serif" text-anchor="middle">10</text>
<text x="447.6" y="563.9" font-size="14.5" font-family="Liberation Serif" text-anchor="middle">12</text>
<text x="479.7" y="563.9" font-size="14.5" font-family="Liberation Serif" text-anchor="middle">14</text>
<text x="511.8" y="563.9" font-size="14.5" font-family="Liberation Serif" text-anchor="middle">16</text>
<line x1="321.20" y1="502.80" x2="513.56" y2="502.80" stroke="#000" stroke-width="2.2" />
<text x="257.5" y="495.3" font-size="15.5" font-family="Liberation Serif" text-anchor="middle" fill="#111" transform="rotate(-90 257.5 495.3)">% Donor-derived</text>
<text x="273" y="495.3" font-size="15.5" font-family="Liberation Serif" text-anchor="middle" fill="#111" transform="rotate(-90 273 495.3)">T-lineage cells</text>
<polyline points="321.2,459.3 353.3,441.4 385.3,437.1 449.4,439.0 513.6,437.5" fill="none" stroke="#e0141e" stroke-width="2.2"/>
<polyline points="321.2,472.6 353.3,463.4 385.3,478.6 449.4,480.8 513.6,482.7" fill="none" stroke="#e0141e" stroke-width="2.2"/>
<polyline points="321.2,480.4 353.3,470.8 385.3,451.8 449.4,446.8 513.6,452.3" fill="none" stroke="#e0141e" stroke-width="2.2"/>
<polyline points="321.2,489.9 353.3,481.2 385.3,463.9 449.4,452.3 513.6,455.1" fill="none" stroke="#e0141e" stroke-width="2.2"/>
<polyline points="321.2,481.0 353.3,476.9 385.3,471.8 449.4,476.0 513.6,476.0" fill="none" stroke="#e0141e" stroke-width="2.2"/>
<circle cx="321.2" cy="459.3" r="6" fill="#fff" stroke="#c42530" stroke-width="1.2"/>
<circle cx="353.3" cy="441.4" r="6" fill="#fff" stroke="#c42530" stroke-width="1.2"/>
<circle cx="385.3" cy="437.1" r="6" fill="#fff" stroke="#c42530" stroke-width="1.2"/>
<circle cx="449.4" cy="439.0" r="6" fill="#fff" stroke="#c42530" stroke-width="1.2"/>
<circle cx="513.6" cy="437.5" r="6" fill="#fff" stroke="#c42530" stroke-width="1.2"/>
<circle cx="321.2" cy="472.6" r="6" fill="#fff" stroke="#c42530" stroke-width="1.2"/>
<circle cx="353.3" cy="463.4" r="6" fill="#fff" stroke="#c42530" stroke-width="1.2"/>
<circle cx="385.3" cy="478.6" r="6" fill="#fff" stroke="#c42530" stroke-width="1.2"/>
<circle cx="449.4" cy="480.8" r="6" fill="#fff" stroke="#c42530" stroke-width="1.2"/>
<circle cx="513.6" cy="482.7" r="6" fill="#fff" stroke="#c42530" stroke-width="1.2"/>
<circle cx="321.2" cy="480.4" r="6" fill="#fff" stroke="#c42530" stroke-width="1.2"/>
<circle cx="353.3" cy="470.8" r="6" fill="#fff" stroke="#c42530" stroke-width="1.2"/>
<circle cx="385.3" cy="451.8" r="6" fill="#fff" stroke="#c42530" stroke-width="1.2"/>
<circle cx="449.4" cy="446.8" r="6" fill="#fff" stroke="#c42530" stroke-width="1.2"/>
<circle cx="513.6" cy="452.3" r="6" fill="#fff" stroke="#c42530" stroke-width="1.2"/>
<circle cx="321.2" cy="489.9" r="6" fill="#fff" stroke="#c42530" stroke-width="1.2"/>
<circle cx="353.3" cy="481.2" r="6" fill="#fff" stroke="#c42530" stroke-width="1.2"/>
<circle cx="385.3" cy="463.9" r="6" fill="#fff" stroke="#c42530" stroke-width="1.2"/>
<circle cx="449.4" cy="452.3" r="6" fill="#fff" stroke="#c42530" stroke-width="1.2"/>
<circle cx="513.6" cy="455.1" r="6" fill="#fff" stroke="#c42530" stroke-width="1.2"/>
<circle cx="321.2" cy="481.0" r="6" fill="#fff" stroke="#c42530" stroke-width="1.2"/>
<circle cx="353.3" cy="476.9" r="6" fill="#fff" stroke="#c42530" stroke-width="1.2"/>
<circle cx="385.3" cy="471.8" r="6" fill="#fff" stroke="#c42530" stroke-width="1.2"/>
<circle cx="449.4" cy="476.0" r="6" fill="#fff" stroke="#c42530" stroke-width="1.2"/>
<circle cx="513.6" cy="476.0" r="6" fill="#fff" stroke="#c42530" stroke-width="1.2"/>
<polyline points="321.2,508.2 353.3,503.4 385.3,493.8 449.4,513.0 513.6,507.8" fill="none" stroke="#2232d4" stroke-width="2.2"/>
<polyline points="321.2,508.2 353.3,514.0 385.3,506.3 449.4,518.1 513.6,511.9" fill="none" stroke="#2232d4" stroke-width="2.2"/>
<polyline points="321.2,518.8 353.3,503.4 385.3,517.8 449.4,523.3 513.6,516.0" fill="none" stroke="#2232d4" stroke-width="2.2"/>
<polyline points="321.2,523.6 353.3,525.5 385.3,506.3 449.4,529.6 513.6,520.2" fill="none" stroke="#2232d4" stroke-width="2.2"/>
<polyline points="321.2,525.5 353.3,514.0 385.3,524.5 449.4,533.7 513.6,525.4" fill="none" stroke="#2232d4" stroke-width="2.2"/>
<polyline points="321.2,518.8 353.3,525.5 385.3,517.8 449.4,513.0 513.6,516.0" fill="none" stroke="#2232d4" stroke-width="2.2"/>
<polyline points="321.2,523.6 353.3,514.0 385.3,524.5 449.4,523.3 513.6,511.9" fill="none" stroke="#2232d4" stroke-width="2.2"/>
<polyline points="321.2,525.5 353.3,503.4 385.3,517.8 449.4,529.6 513.6,507.8" fill="none" stroke="#2232d4" stroke-width="2.2"/>
<circle cx="321.2" cy="508.2" r="6" fill="#fff" stroke="#3040c0" stroke-width="1.2"/>
<circle cx="353.3" cy="503.4" r="6" fill="#fff" stroke="#3040c0" stroke-width="1.2"/>
<circle cx="385.3" cy="493.8" r="6" fill="#fff" stroke="#3040c0" stroke-width="1.2"/>
<circle cx="449.4" cy="513.0" r="6" fill="#fff" stroke="#3040c0" stroke-width="1.2"/>
<circle cx="513.6" cy="507.8" r="6" fill="#fff" stroke="#3040c0" stroke-width="1.2"/>
<circle cx="321.2" cy="508.2" r="6" fill="#fff" stroke="#3040c0" stroke-width="1.2"/>
<circle cx="353.3" cy="514.0" r="6" fill="#fff" stroke="#3040c0" stroke-width="1.2"/>
<circle cx="385.3" cy="506.3" r="6" fill="#fff" stroke="#3040c0" stroke-width="1.2"/>
<circle cx="449.4" cy="518.1" r="6" fill="#fff" stroke="#3040c0" stroke-width="1.2"/>
<circle cx="513.6" cy="511.9" r="6" fill="#fff" stroke="#3040c0" stroke-width="1.2"/>
<circle cx="321.2" cy="518.8" r="6" fill="#fff" stroke="#3040c0" stroke-width="1.2"/>
<circle cx="353.3" cy="503.4" r="6" fill="#fff" stroke="#3040c0" stroke-width="1.2"/>
<circle cx="385.3" cy="517.8" r="6" fill="#fff" stroke="#3040c0" stroke-width="1.2"/>
<circle cx="449.4" cy="523.3" r="6" fill="#fff" stroke="#3040c0" stroke-width="1.2"/>
<circle cx="513.6" cy="516.0" r="6" fill="#fff" stroke="#3040c0" stroke-width="1.2"/>
<circle cx="321.2" cy="523.6" r="6" fill="#fff" stroke="#3040c0" stroke-width="1.2"/>
<circle cx="353.3" cy="525.5" r="6" fill="#fff" stroke="#3040c0" stroke-width="1.2"/>
<circle cx="385.3" cy="506.3" r="6" fill="#fff" stroke="#3040c0" stroke-width="1.2"/>
<circle cx="449.4" cy="529.6" r="6" fill="#fff" stroke="#3040c0" stroke-width="1.2"/>
<circle cx="513.6" cy="520.2" r="6" fill="#fff" stroke="#3040c0" stroke-width="1.2"/>
<circle cx="321.2" cy="525.5" r="6" fill="#fff" stroke="#3040c0" stroke-width="1.2"/>
<circle cx="353.3" cy="514.0" r="6" fill="#fff" stroke="#3040c0" stroke-width="1.2"/>
<circle cx="385.3" cy="524.5" r="6" fill="#fff" stroke="#3040c0" stroke-width="1.2"/>
<circle cx="449.4" cy="533.7" r="6" fill="#fff" stroke="#3040c0" stroke-width="1.2"/>
<circle cx="513.6" cy="525.4" r="6" fill="#fff" stroke="#3040c0" stroke-width="1.2"/>
<circle cx="321.2" cy="518.8" r="6" fill="#fff" stroke="#3040c0" stroke-width="1.2"/>
<circle cx="353.3" cy="525.5" r="6" fill="#fff" stroke="#3040c0" stroke-width="1.2"/>
<circle cx="385.3" cy="517.8" r="6" fill="#fff" stroke="#3040c0" stroke-width="1.2"/>
<circle cx="449.4" cy="513.0" r="6" fill="#fff" stroke="#3040c0" stroke-width="1.2"/>
<circle cx="513.6" cy="516.0" r="6" fill="#fff" stroke="#3040c0" stroke-width="1.2"/>
<circle cx="321.2" cy="523.6" r="6" fill="#fff" stroke="#3040c0" stroke-width="1.2"/>
<circle cx="353.3" cy="514.0" r="6" fill="#fff" stroke="#3040c0" stroke-width="1.2"/>
<circle cx="385.3" cy="524.5" r="6" fill="#fff" stroke="#3040c0" stroke-width="1.2"/>
<circle cx="449.4" cy="523.3" r="6" fill="#fff" stroke="#3040c0" stroke-width="1.2"/>
<circle cx="513.6" cy="511.9" r="6" fill="#fff" stroke="#3040c0" stroke-width="1.2"/>
<circle cx="321.2" cy="525.5" r="6" fill="#fff" stroke="#3040c0" stroke-width="1.2"/>
<circle cx="353.3" cy="503.4" r="6" fill="#fff" stroke="#3040c0" stroke-width="1.2"/>
<circle cx="385.3" cy="517.8" r="6" fill="#fff" stroke="#3040c0" stroke-width="1.2"/>
<circle cx="449.4" cy="529.6" r="6" fill="#fff" stroke="#3040c0" stroke-width="1.2"/>
<circle cx="513.6" cy="507.8" r="6" fill="#fff" stroke="#3040c0" stroke-width="1.2"/>
<line x1="316.70" y1="576.90" x2="513.56" y2="576.90" stroke="#8a8a8a" stroke-width="1" />
<line x1="513.56" y1="576.90" x2="513.56" y2="690.80" stroke="#8a8a8a" stroke-width="1" />
<line x1="321.20" y1="576.90" x2="321.20" y2="690.80" stroke="#333" stroke-width="1.1" />
<line x1="316.70" y1="690.80" x2="513.56" y2="690.80" stroke="#444" stroke-width="1.3" />
<path d="M316.7 576.90H321.2M316.7 605.38H321.2M316.7 633.85H321.2M316.7 662.32H321.2M316.7 690.80H321.2M321.20 690.80v4M353.26 690.80v4M385.32 690.80v4M417.38 690.80v4M449.44 690.80v4M481.50 690.80v4M513.56 690.80v4" stroke="#444" stroke-width="1" fill="none" />
<text x="310.3" y="582.2" font-size="13.5" font-family="Liberation Serif" text-anchor="end">100.00</text>
<text x="310.3" y="610.7" font-size="13.5" font-family="Liberation Serif" text-anchor="end">10.00</text>
<text x="310.3" y="639.1" font-size="13.5" font-family="Liberation Serif" text-anchor="end">1.00</text>
<text x="310.3" y="667.6" font-size="13.5" font-family="Liberation Serif" text-anchor="end">0.10</text>
<text x="310.3" y="696.1" font-size="13.5" font-family="Liberation Serif" text-anchor="end">0.01</text>
<text x="319.4" y="718.3" font-size="14.5" font-family="Liberation Serif" text-anchor="middle">4</text>
<text x="351.5" y="718.3" font-size="14.5" font-family="Liberation Serif" text-anchor="middle">6</text>
<text x="383.5" y="718.3" font-size="14.5" font-family="Liberation Serif" text-anchor="middle">8</text>
<text x="415.6" y="718.3" font-size="14.5" font-family="Liberation Serif" text-anchor="middle">10</text>
<text x="447.6" y="718.3" font-size="14.5" font-family="Liberation Serif" text-anchor="middle">12</text>
<text x="479.7" y="718.3" font-size="14.5" font-family="Liberation Serif" text-anchor="middle">14</text>
<text x="511.8" y="718.3" font-size="14.5" font-family="Liberation Serif" text-anchor="middle">16</text>
<line x1="321.20" y1="648.90" x2="513.56" y2="648.90" stroke="#000" stroke-width="2.2" />
<text x="257.5" y="637.6" font-size="15.5" font-family="Liberation Serif" text-anchor="middle" fill="#111" transform="rotate(-90 257.5 637.6)">% Donor-derived</text>
<text x="273" y="637.6" font-size="15.5" font-family="Liberation Serif" text-anchor="middle" fill="#111" transform="rotate(-90 273 637.6)">B-lineage cells</text>
<polyline points="321.2,583.8 353.3,583.5 385.3,582.5 449.4,582.5 513.6,582.5" fill="none" stroke="#e0141e" stroke-width="2.2"/>
<polyline points="321.2,597.3 353.3,597.7 385.3,591.8 449.4,594.5 513.6,589.5" fill="none" stroke="#e0141e" stroke-width="2.2"/>
<polyline points="321.2,608.9 353.3,606.3 385.3,597.0 449.4,597.0 513.6,593.7" fill="none" stroke="#e0141e" stroke-width="2.2"/>
<polyline points="321.2,623.6 353.3,614.1 385.3,610.4 449.4,613.2 513.6,611.8" fill="none" stroke="#e0141e" stroke-width="2.2"/>
<polyline points="321.2,597.3 353.3,614.1 385.3,610.4 449.4,625.8 513.6,628.6" fill="none" stroke="#e0141e" stroke-width="2.2"/>
<circle cx="321.2" cy="583.8" r="6" fill="#fff" stroke="#c42530" stroke-width="1.2"/>
<circle cx="353.3" cy="583.5" r="6" fill="#fff" stroke="#c42530" stroke-width="1.2"/>
<circle cx="385.3" cy="582.5" r="6" fill="#fff" stroke="#c42530" stroke-width="1.2"/>
<circle cx="449.4" cy="582.5" r="6" fill="#fff" stroke="#c42530" stroke-width="1.2"/>
<circle cx="513.6" cy="582.5" r="6" fill="#fff" stroke="#c42530" stroke-width="1.2"/>
<circle cx="321.2" cy="597.3" r="6" fill="#fff" stroke="#c42530" stroke-width="1.2"/>
<circle cx="353.3" cy="597.7" r="6" fill="#fff" stroke="#c42530" stroke-width="1.2"/>
<circle cx="385.3" cy="591.8" r="6" fill="#fff" stroke="#c42530" stroke-width="1.2"/>
<circle cx="449.4" cy="594.5" r="6" fill="#fff" stroke="#c42530" stroke-width="1.2"/>
<circle cx="513.6" cy="589.5" r="6" fill="#fff" stroke="#c42530" stroke-width="1.2"/>
<circle cx="321.2" cy="608.9" r="6" fill="#fff" stroke="#c42530" stroke-width="1.2"/>
<circle cx="353.3" cy="606.3" r="6" fill="#fff" stroke="#c42530" stroke-width="1.2"/>
<circle cx="385.3" cy="597.0" r="6" fill="#fff" stroke="#c42530" stroke-width="1.2"/>
<circle cx="449.4" cy="597.0" r="6" fill="#fff" stroke="#c42530" stroke-width="1.2"/>
<circle cx="513.6" cy="593.7" r="6" fill="#fff" stroke="#c42530" stroke-width="1.2"/>
<circle cx="321.2" cy="623.6" r="6" fill="#fff" stroke="#c42530" stroke-width="1.2"/>
<circle cx="353.3" cy="614.1" r="6" fill="#fff" stroke="#c42530" stroke-width="1.2"/>
<circle cx="385.3" cy="610.4" r="6" fill="#fff" stroke="#c42530" stroke-width="1.2"/>
<circle cx="449.4" cy="613.2" r="6" fill="#fff" stroke="#c42530" stroke-width="1.2"/>
<circle cx="513.6" cy="611.8" r="6" fill="#fff" stroke="#c42530" stroke-width="1.2"/>
<circle cx="321.2" cy="597.3" r="6" fill="#fff" stroke="#c42530" stroke-width="1.2"/>
<circle cx="353.3" cy="614.1" r="6" fill="#fff" stroke="#c42530" stroke-width="1.2"/>
<circle cx="385.3" cy="610.4" r="6" fill="#fff" stroke="#c42530" stroke-width="1.2"/>
<circle cx="449.4" cy="625.8" r="6" fill="#fff" stroke="#c42530" stroke-width="1.2"/>
<circle cx="513.6" cy="628.6" r="6" fill="#fff" stroke="#c42530" stroke-width="1.2"/>
<polyline points="321.2,659.6 353.3,638.5 385.3,632.7 449.4,653.0 513.6,661.4" fill="none" stroke="#2232d4" stroke-width="2.2"/>
<polyline points="321.2,659.6 353.3,653.8 385.3,655.8 449.4,658.3 513.6,658.3" fill="none" stroke="#2232d4" stroke-width="2.2"/>
<polyline points="321.2,670.2 353.3,660.6 385.3,664.4 449.4,666.6 513.6,664.5" fill="none" stroke="#2232d4" stroke-width="2.2"/>
<polyline points="321.2,681.7 353.3,676.0 385.3,676.0 449.4,680.0 513.6,668.7" fill="none" stroke="#2232d4" stroke-width="2.2"/>
<polyline points="321.2,670.2 353.3,660.6 385.3,655.8 449.4,666.6 513.6,661.4" fill="none" stroke="#2232d4" stroke-width="2.2"/>
<polyline points="321.2,676.0 353.3,653.8 385.3,664.4 449.4,680.0 513.6,664.5" fill="none" stroke="#2232d4" stroke-width="2.2"/>
<polyline points="321.2,681.7 353.3,676.0 385.3,676.0 449.4,658.3 513.6,668.7" fill="none" stroke="#2232d4" stroke-width="2.2"/>
<polyline points="321.2,659.6 353.3,676.0 385.3,664.4 449.4,653.0 513.6,658.3" fill="none" stroke="#2232d4" stroke-width="2.2"/>
<circle cx="321.2" cy="659.6" r="6" fill="#fff" stroke="#3040c0" stroke-width="1.2"/>
<circle cx="353.3" cy="638.5" r="6" fill="#fff" stroke="#3040c0" stroke-width="1.2"/>
<circle cx="385.3" cy="632.7" r="6" fill="#fff" stroke="#3040c0" stroke-width="1.2"/>
<circle cx="449.4" cy="653.0" r="6" fill="#fff" stroke="#3040c0" stroke-width="1.2"/>
<circle cx="513.6" cy="661.4" r="6" fill="#fff" stroke="#3040c0" stroke-width="1.2"/>
<circle cx="321.2" cy="659.6" r="6" fill="#fff" stroke="#3040c0" stroke-width="1.2"/>
<circle cx="353.3" cy="653.8" r="6" fill="#fff" stroke="#3040c0" stroke-width="1.2"/>
<circle cx="385.3" cy="655.8" r="6" fill="#fff" stroke="#3040c0" stroke-width="1.2"/>
<circle cx="449.4" cy="658.3" r="6" fill="#fff" stroke="#3040c0" stroke-width="1.2"/>
<circle cx="513.6" cy="658.3" r="6" fill="#fff" stroke="#3040c0" stroke-width="1.2"/>
<circle cx="321.2" cy="670.2" r="6" fill="#fff" stroke="#3040c0" stroke-width="1.2"/>
<circle cx="353.3" cy="660.6" r="6" fill="#fff" stroke="#3040c0" stroke-width="1.2"/>
<circle cx="385.3" cy="664.4" r="6" fill="#fff" stroke="#3040c0" stroke-width="1.2"/>
<circle cx="449.4" cy="666.6" r="6" fill="#fff" stroke="#3040c0" stroke-width="1.2"/>
<circle cx="513.6" cy="664.5" r="6" fill="#fff" stroke="#3040c0" stroke-width="1.2"/>
<circle cx="321.2" cy="681.7" r="6" fill="#fff" stroke="#3040c0" stroke-width="1.2"/>
<circle cx="353.3" cy="676.0" r="6" fill="#fff" stroke="#3040c0" stroke-width="1.2"/>
<circle cx="385.3" cy="676.0" r="6" fill="#fff" stroke="#3040c0" stroke-width="1.2"/>
<circle cx="449.4" cy="680.0" r="6" fill="#fff" stroke="#3040c0" stroke-width="1.2"/>
<circle cx="513.6" cy="668.7" r="6" fill="#fff" stroke="#3040c0" stroke-width="1.2"/>
<circle cx="321.2" cy="670.2" r="6" fill="#fff" stroke="#3040c0" stroke-width="1.2"/>
<circle cx="353.3" cy="660.6" r="6" fill="#fff" stroke="#3040c0" stroke-width="1.2"/>
<circle cx="385.3" cy="655.8" r="6" fill="#fff" stroke="#3040c0" stroke-width="1.2"/>
<circle cx="449.4" cy="666.6" r="6" fill="#fff" stroke="#3040c0" stroke-width="1.2"/>
<circle cx="513.6" cy="661.4" r="6" fill="#fff" stroke="#3040c0" stroke-width="1.2"/>
<circle cx="321.2" cy="676.0" r="6" fill="#fff" stroke="#3040c0" stroke-width="1.2"/>
<circle cx="353.3" cy="653.8" r="6" fill="#fff" stroke="#3040c0" stroke-width="1.2"/>
<circle cx="385.3" cy="664.4" r="6" fill="#fff" stroke="#3040c0" stroke-width="1.2"/>
<circle cx="449.4" cy="680.0" r="6" fill="#fff" stroke="#3040c0" stroke-width="1.2"/>
<circle cx="513.6" cy="664.5" r="6" fill="#fff" stroke="#3040c0" stroke-width="1.2"/>
<circle cx="321.2" cy="681.7" r="6" fill="#fff" stroke="#3040c0" stroke-width="1.2"/>
<circle cx="353.3" cy="676.0" r="6" fill="#fff" stroke="#3040c0" stroke-width="1.2"/>
<circle cx="385.3" cy="676.0" r="6" fill="#fff" stroke="#3040c0" stroke-width="1.2"/>
<circle cx="449.4" cy="658.3" r="6" fill="#fff" stroke="#3040c0" stroke-width="1.2"/>
<circle cx="513.6" cy="668.7" r="6" fill="#fff" stroke="#3040c0" stroke-width="1.2"/>
<circle cx="321.2" cy="659.6" r="6" fill="#fff" stroke="#3040c0" stroke-width="1.2"/>
<circle cx="353.3" cy="676.0" r="6" fill="#fff" stroke="#3040c0" stroke-width="1.2"/>
<circle cx="385.3" cy="664.4" r="6" fill="#fff" stroke="#3040c0" stroke-width="1.2"/>
<circle cx="449.4" cy="653.0" r="6" fill="#fff" stroke="#3040c0" stroke-width="1.2"/>
<circle cx="513.6" cy="658.3" r="6" fill="#fff" stroke="#3040c0" stroke-width="1.2"/>
<text x="332.7" y="746.2" font-size="16" font-family="Liberation Serif" textLength="168" lengthAdjust="spacingAndGlyphs">Weeks after transplantation</text></svg>
</body></html>
